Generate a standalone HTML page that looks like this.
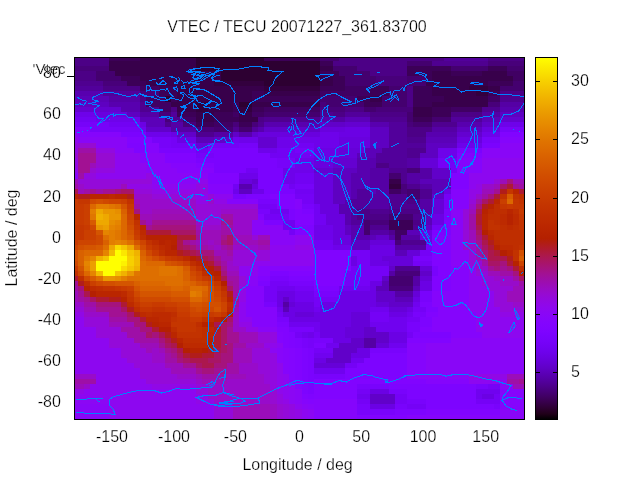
<!DOCTYPE html>
<html><head><meta charset="utf-8"><title>VTEC / TECU</title>
<style>html,body{margin:0;padding:0;background:#fff;width:640px;height:480px;overflow:hidden}
svg{display:block;position:absolute;left:0;top:0}
text{font-family:"Liberation Sans",Arial,sans-serif;font-size:16px;fill:#000;stroke:#fff;stroke-width:.25px}</style></head>
<body><svg width="640" height="480" viewBox="0 0 640 480">
<defs><linearGradient id="cb" x1="0" y1="0" x2="0" y2="1"><stop offset="0.0000" stop-color="#ffff00"/><stop offset="0.0156" stop-color="#fdf300"/><stop offset="0.0312" stop-color="#fbe800"/><stop offset="0.0469" stop-color="#f9dd00"/><stop offset="0.0625" stop-color="#f7d200"/><stop offset="0.0781" stop-color="#f5c800"/><stop offset="0.0938" stop-color="#f3be00"/><stop offset="0.1094" stop-color="#f1b400"/><stop offset="0.1250" stop-color="#efab00"/><stop offset="0.1406" stop-color="#eca200"/><stop offset="0.1562" stop-color="#ea9900"/><stop offset="0.1719" stop-color="#e89100"/><stop offset="0.1875" stop-color="#e68900"/><stop offset="0.2031" stop-color="#e48100"/><stop offset="0.2188" stop-color="#e17a00"/><stop offset="0.2344" stop-color="#df7200"/><stop offset="0.2500" stop-color="#dd6c00"/><stop offset="0.2656" stop-color="#db6500"/><stop offset="0.2812" stop-color="#d85f00"/><stop offset="0.2969" stop-color="#d65900"/><stop offset="0.3125" stop-color="#d35300"/><stop offset="0.3281" stop-color="#d14d00"/><stop offset="0.3438" stop-color="#cf4800"/><stop offset="0.3594" stop-color="#cc4300"/><stop offset="0.3750" stop-color="#ca3e00"/><stop offset="0.3906" stop-color="#c73a00"/><stop offset="0.4062" stop-color="#c43500"/><stop offset="0.4219" stop-color="#c23100"/><stop offset="0.4375" stop-color="#bf2d00"/><stop offset="0.4531" stop-color="#bd2a00"/><stop offset="0.4688" stop-color="#ba2600"/><stop offset="0.4844" stop-color="#b72300"/><stop offset="0.5000" stop-color="#b42000"/><stop offset="0.5156" stop-color="#b11d19"/><stop offset="0.5312" stop-color="#af1a32"/><stop offset="0.5469" stop-color="#ac184a"/><stop offset="0.5625" stop-color="#a91562"/><stop offset="0.5781" stop-color="#a61378"/><stop offset="0.5938" stop-color="#a3118e"/><stop offset="0.6094" stop-color="#9f0fa2"/><stop offset="0.6250" stop-color="#9c0db4"/><stop offset="0.6406" stop-color="#990cc5"/><stop offset="0.6562" stop-color="#960ad4"/><stop offset="0.6719" stop-color="#9209e1"/><stop offset="0.6875" stop-color="#8f08ec"/><stop offset="0.7031" stop-color="#8b07f4"/><stop offset="0.7188" stop-color="#8706fa"/><stop offset="0.7344" stop-color="#8305fe"/><stop offset="0.7500" stop-color="#8004ff"/><stop offset="0.7656" stop-color="#7b03fe"/><stop offset="0.7812" stop-color="#7703fa"/><stop offset="0.7969" stop-color="#7302f4"/><stop offset="0.8125" stop-color="#6e02ec"/><stop offset="0.8281" stop-color="#6a01e1"/><stop offset="0.8438" stop-color="#6501d4"/><stop offset="0.8594" stop-color="#6001c5"/><stop offset="0.8750" stop-color="#5a00b4"/><stop offset="0.8906" stop-color="#5400a2"/><stop offset="0.9062" stop-color="#4e008e"/><stop offset="0.9219" stop-color="#470078"/><stop offset="0.9375" stop-color="#400062"/><stop offset="0.9531" stop-color="#37004a"/><stop offset="0.9688" stop-color="#2d0032"/><stop offset="0.9844" stop-color="#200019"/><stop offset="1.0000" stop-color="#000000"/></linearGradient></defs>
<rect width="640" height="480" fill="#fff"/>
<g shape-rendering="crispEdges"><path fill="#4c0086" d="M75 58h3v3h-3zM78 58h6v3h-6zM84 58h6v3h-6zM90 58h6v3h-6zM96 58h7v3h-7zM103 58h6v3h-6zM339 58h6v3h-6zM345 58h6v3h-6zM351 58h6v3h-6zM357 58h7v3h-7zM364 58h6v3h-6zM370 58h6v3h-6zM376 58h6v3h-6zM382 58h7v3h-7zM389 58h6v3h-6zM395 58h6v3h-6zM401 58h6v3h-6zM407 58h6v3h-6zM413 58h7v3h-7zM420 58h6v3h-6zM426 58h6v3h-6zM432 58h6v3h-6zM438 58h6v3h-6zM488 58h6v3h-6zM494 58h6v3h-6zM500 58h7v3h-7zM507 58h6v3h-6zM513 58h6v3h-6zM519 58h6v3h-6zM75 61h3v5h-3zM78 61h6v5h-6zM84 61h6v5h-6zM90 61h6v5h-6zM96 61h7v5h-7zM103 61h6v5h-6zM333 61h6v5h-6zM339 61h6v5h-6zM345 61h6v5h-6zM351 61h6v5h-6zM357 61h7v5h-7zM364 61h6v5h-6zM370 61h6v5h-6zM376 61h6v5h-6zM382 61h7v5h-7zM389 61h6v5h-6zM395 61h6v5h-6zM401 61h6v5h-6zM357 66h7v5h-7zM364 66h6v5h-6zM370 66h6v5h-6zM376 66h6v5h-6zM382 66h7v5h-7zM389 66h6v5h-6zM395 66h6v5h-6zM401 66h6v5h-6zM75 71h3v5h-3zM78 71h6v5h-6zM84 71h6v5h-6zM90 71h6v5h-6zM370 71h6v5h-6zM376 71h6v5h-6zM382 71h7v5h-7zM389 71h6v5h-6zM395 71h6v5h-6zM401 71h6v5h-6zM75 76h3v5h-3zM78 76h6v5h-6zM84 76h6v5h-6zM90 76h6v5h-6zM103 86h6v5h-6zM109 86h6v5h-6zM115 86h6v5h-6zM121 86h6v5h-6zM127 86h7v5h-7zM134 86h6v5h-6zM407 86h6v5h-6zM407 91h6v5h-6zM500 91h7v5h-7zM507 91h6v5h-6zM513 91h6v5h-6zM519 91h6v5h-6zM140 96h6v6h-6zM407 96h6v6h-6zM407 102h6v5h-6zM171 107h6v5h-6zM320 107h6v5h-6zM345 107h6v5h-6zM351 107h6v5h-6zM357 107h7v5h-7zM333 112h6v5h-6zM339 112h6v5h-6zM370 112h6v5h-6zM376 112h6v5h-6zM382 112h7v5h-7zM389 112h6v5h-6zM395 112h6v5h-6zM401 112h6v5h-6zM451 112h6v5h-6zM457 112h6v5h-6zM463 112h6v5h-6zM469 112h7v5h-7zM476 112h6v5h-6zM258 117h6v5h-6zM407 127h6v5h-6zM413 127h7v5h-7zM420 127h6v5h-6zM426 127h6v5h-6zM407 132h6v5h-6zM413 132h7v5h-7zM420 132h6v5h-6zM376 163h6v5h-6zM382 163h7v5h-7zM407 199h6v5h-6zM413 199h7v5h-7zM357 209h7v5h-7zM364 209h6v5h-6zM389 209h6v5h-6zM395 209h6v5h-6zM401 209h6v5h-6zM407 209h6v5h-6zM413 209h7v5h-7zM357 214h7v6h-7zM364 214h6v6h-6zM370 214h6v6h-6zM376 214h6v6h-6zM382 214h7v6h-7zM413 220h7v5h-7zM420 220h6v5h-6z"/><path fill="#3c0057" d="M109 58h6v3h-6zM115 58h6v3h-6zM121 58h6v3h-6zM127 58h7v3h-7zM134 58h6v3h-6zM264 58h6v3h-6zM270 58h7v3h-7zM277 58h6v3h-6zM283 58h6v3h-6zM289 58h6v3h-6zM295 58h7v3h-7zM302 58h6v3h-6zM308 58h6v3h-6zM314 58h6v3h-6zM320 61h6v5h-6zM326 61h7v5h-7zM407 66h6v5h-6zM413 66h7v5h-7zM420 66h6v5h-6zM426 66h6v5h-6zM432 66h6v5h-6zM438 66h6v5h-6zM444 66h7v5h-7zM488 66h6v5h-6zM494 66h6v5h-6zM500 66h7v5h-7zM320 71h6v5h-6zM326 71h7v5h-7zM333 71h6v5h-6zM407 71h6v5h-6zM413 71h7v5h-7zM420 71h6v5h-6zM426 71h6v5h-6zM451 71h6v5h-6zM457 71h6v5h-6zM463 71h6v5h-6zM469 71h7v5h-7zM476 71h6v5h-6zM121 76h6v5h-6zM127 76h7v5h-7zM134 76h6v5h-6zM333 76h6v5h-6zM339 76h6v5h-6zM426 76h6v5h-6zM127 81h7v5h-7zM134 81h6v5h-6zM140 81h6v5h-6zM333 81h6v5h-6zM339 81h6v5h-6zM488 81h6v5h-6zM494 81h6v5h-6zM500 81h7v5h-7zM507 81h6v5h-6zM159 86h6v5h-6zM165 86h6v5h-6zM171 86h6v5h-6zM320 86h6v5h-6zM326 86h7v5h-7zM333 86h6v5h-6zM339 86h6v5h-6zM370 86h6v5h-6zM376 86h6v5h-6zM382 86h7v5h-7zM413 86h7v5h-7zM420 86h6v5h-6zM426 86h6v5h-6zM159 91h6v5h-6zM165 91h6v5h-6zM171 91h6v5h-6zM252 91h6v5h-6zM258 91h6v5h-6zM370 91h6v5h-6zM376 91h6v5h-6zM382 91h7v5h-7zM413 91h7v5h-7zM420 91h6v5h-6zM426 91h6v5h-6zM488 91h6v5h-6zM494 91h6v5h-6zM171 96h6v6h-6zM252 96h6v6h-6zM258 96h6v6h-6zM264 96h6v6h-6zM270 96h7v6h-7zM277 96h6v6h-6zM283 96h6v6h-6zM289 96h6v6h-6zM295 96h7v6h-7zM302 96h6v6h-6zM308 96h6v6h-6zM314 96h6v6h-6zM357 96h7v6h-7zM364 96h6v6h-6zM413 96h7v6h-7zM420 96h6v6h-6zM426 96h6v6h-6zM432 96h6v6h-6zM438 96h6v6h-6zM233 102h6v5h-6zM364 102h6v5h-6zM370 102h6v5h-6zM376 102h6v5h-6zM413 102h7v5h-7zM420 102h6v5h-6zM426 102h6v5h-6zM233 107h6v5h-6zM252 107h6v5h-6zM258 107h6v5h-6zM432 107h6v5h-6zM438 107h6v5h-6zM444 107h7v5h-7zM177 112h6v5h-6zM183 112h7v5h-7zM190 112h6v5h-6zM214 112h7v5h-7zM221 112h6v5h-6zM227 112h6v5h-6zM432 112h6v5h-6zM438 112h6v5h-6zM444 112h7v5h-7zM214 117h7v5h-7zM221 117h6v5h-6zM227 117h6v5h-6zM233 117h6v5h-6zM413 117h7v5h-7zM420 117h6v5h-6zM426 117h6v5h-6zM196 122h6v5h-6zM202 122h6v5h-6zM208 122h6v5h-6zM239 122h7v5h-7zM246 122h6v5h-6zM389 220h6v5h-6zM395 220h6v5h-6zM401 220h6v5h-6zM407 220h6v5h-6zM389 225h6v5h-6zM395 225h6v5h-6zM401 225h6v5h-6zM407 225h6v5h-6z"/><path fill="#38004b" d="M140 58h6v3h-6zM146 58h6v3h-6zM152 58h7v3h-7zM159 58h6v3h-6zM165 58h6v3h-6zM171 58h6v3h-6zM177 58h6v3h-6zM183 58h7v3h-7zM190 58h6v3h-6zM109 61h6v5h-6zM115 61h6v5h-6zM121 61h6v5h-6zM127 61h7v5h-7zM134 61h6v5h-6zM140 61h6v5h-6zM146 61h6v5h-6zM152 61h7v5h-7zM159 61h6v5h-6zM165 61h6v5h-6zM171 61h6v5h-6zM177 61h6v5h-6zM183 61h7v5h-7zM190 61h6v5h-6zM109 66h6v5h-6zM115 66h6v5h-6zM121 66h6v5h-6zM127 66h7v5h-7zM134 66h6v5h-6zM140 66h6v5h-6zM146 66h6v5h-6zM152 66h7v5h-7zM159 66h6v5h-6zM165 66h6v5h-6zM171 66h6v5h-6zM177 66h6v5h-6zM183 66h7v5h-7zM190 66h6v5h-6zM320 66h6v5h-6zM326 66h7v5h-7zM115 71h6v5h-6zM121 71h6v5h-6zM127 71h7v5h-7zM134 71h6v5h-6zM140 71h6v5h-6zM146 71h6v5h-6zM152 71h7v5h-7zM159 71h6v5h-6zM165 71h6v5h-6zM171 71h6v5h-6zM177 71h6v5h-6zM183 71h7v5h-7zM190 71h6v5h-6zM196 71h6v5h-6zM202 71h6v5h-6zM208 71h6v5h-6zM214 71h7v5h-7zM432 71h6v5h-6zM438 71h6v5h-6zM444 71h7v5h-7zM482 71h6v5h-6zM488 71h6v5h-6zM494 71h6v5h-6zM500 71h7v5h-7zM140 76h6v5h-6zM146 76h6v5h-6zM152 76h7v5h-7zM159 76h6v5h-6zM165 76h6v5h-6zM171 76h6v5h-6zM177 76h6v5h-6zM183 76h7v5h-7zM190 76h6v5h-6zM196 76h6v5h-6zM202 76h6v5h-6zM208 76h6v5h-6zM214 76h7v5h-7zM320 76h6v5h-6zM326 76h7v5h-7zM432 76h6v5h-6zM438 76h6v5h-6zM444 76h7v5h-7zM451 76h6v5h-6zM457 76h6v5h-6zM463 76h6v5h-6zM469 76h7v5h-7zM476 76h6v5h-6zM482 76h6v5h-6zM488 76h6v5h-6zM494 76h6v5h-6zM500 76h7v5h-7zM507 76h6v5h-6zM146 81h6v5h-6zM152 81h7v5h-7zM159 81h6v5h-6zM165 81h6v5h-6zM171 81h6v5h-6zM177 81h6v5h-6zM183 81h7v5h-7zM190 81h6v5h-6zM196 81h6v5h-6zM202 81h6v5h-6zM208 81h6v5h-6zM320 81h6v5h-6zM326 81h7v5h-7zM426 81h6v5h-6zM432 81h6v5h-6zM438 81h6v5h-6zM444 81h7v5h-7zM451 81h6v5h-6zM457 81h6v5h-6zM463 81h6v5h-6zM469 81h7v5h-7zM476 81h6v5h-6zM482 81h6v5h-6zM177 86h6v5h-6zM183 86h7v5h-7zM190 86h6v5h-6zM196 86h6v5h-6zM202 86h6v5h-6zM208 86h6v5h-6zM214 86h7v5h-7zM221 86h6v5h-6zM227 86h6v5h-6zM233 86h6v5h-6zM239 86h7v5h-7zM246 86h6v5h-6zM252 86h6v5h-6zM258 86h6v5h-6zM432 86h6v5h-6zM438 86h6v5h-6zM444 86h7v5h-7zM451 86h6v5h-6zM457 86h6v5h-6zM463 86h6v5h-6zM488 86h6v5h-6zM494 86h6v5h-6zM177 91h6v5h-6zM183 91h7v5h-7zM190 91h6v5h-6zM196 91h6v5h-6zM202 91h6v5h-6zM208 91h6v5h-6zM214 91h7v5h-7zM221 91h6v5h-6zM227 91h6v5h-6zM233 91h6v5h-6zM239 91h7v5h-7zM246 91h6v5h-6zM264 91h6v5h-6zM270 91h7v5h-7zM277 91h6v5h-6zM283 91h6v5h-6zM289 91h6v5h-6zM295 91h7v5h-7zM302 91h6v5h-6zM308 91h6v5h-6zM314 91h6v5h-6zM432 91h6v5h-6zM438 91h6v5h-6zM444 91h7v5h-7zM451 91h6v5h-6zM457 91h6v5h-6zM463 91h6v5h-6zM469 91h7v5h-7zM177 96h6v6h-6zM183 96h7v6h-7zM190 96h6v6h-6zM196 96h6v6h-6zM202 96h6v6h-6zM208 96h6v6h-6zM214 96h7v6h-7zM221 96h6v6h-6zM227 96h6v6h-6zM233 96h6v6h-6zM239 96h7v6h-7zM246 96h6v6h-6zM370 96h6v6h-6zM376 96h6v6h-6zM444 96h7v6h-7zM451 96h6v6h-6zM457 96h6v6h-6zM463 96h6v6h-6zM469 96h7v6h-7zM476 96h6v6h-6zM482 96h6v6h-6zM171 102h6v5h-6zM177 102h6v5h-6zM183 102h7v5h-7zM190 102h6v5h-6zM208 102h6v5h-6zM214 102h7v5h-7zM221 102h6v5h-6zM227 102h6v5h-6zM252 102h6v5h-6zM258 102h6v5h-6zM264 102h6v5h-6zM270 102h7v5h-7zM277 102h6v5h-6zM283 102h6v5h-6zM289 102h6v5h-6zM295 102h7v5h-7zM302 102h6v5h-6zM308 102h6v5h-6zM314 102h6v5h-6zM432 102h6v5h-6zM438 102h6v5h-6zM444 102h7v5h-7zM451 102h6v5h-6zM457 102h6v5h-6zM463 102h6v5h-6zM469 102h7v5h-7zM476 102h6v5h-6zM482 102h6v5h-6zM177 107h6v5h-6zM183 107h7v5h-7zM190 107h6v5h-6zM208 107h6v5h-6zM214 107h7v5h-7zM221 107h6v5h-6zM227 107h6v5h-6zM413 107h7v5h-7zM420 107h6v5h-6zM426 107h6v5h-6zM196 112h6v5h-6zM202 112h6v5h-6zM208 112h6v5h-6zM239 112h7v5h-7zM246 112h6v5h-6zM413 112h7v5h-7zM420 112h6v5h-6zM426 112h6v5h-6zM196 117h6v5h-6zM202 117h6v5h-6zM208 117h6v5h-6zM239 117h7v5h-7zM246 117h6v5h-6zM252 117h6v5h-6zM389 179h6v5h-6zM395 179h6v5h-6z"/><path fill="#2d0032" d="M196 58h6v3h-6zM202 58h6v3h-6zM208 58h6v3h-6zM214 58h7v3h-7zM221 58h6v3h-6zM227 58h6v3h-6zM233 58h6v3h-6zM239 58h7v3h-7zM246 58h6v3h-6zM252 58h6v3h-6zM258 58h6v3h-6zM196 61h6v5h-6zM202 61h6v5h-6zM208 61h6v5h-6zM214 61h7v5h-7zM221 61h6v5h-6zM227 61h6v5h-6zM233 61h6v5h-6zM239 61h7v5h-7zM246 61h6v5h-6zM252 61h6v5h-6zM258 61h6v5h-6zM264 61h6v5h-6zM270 61h7v5h-7zM277 61h6v5h-6zM283 61h6v5h-6zM289 61h6v5h-6zM295 61h7v5h-7zM302 61h6v5h-6zM308 61h6v5h-6zM314 61h6v5h-6zM196 66h6v5h-6zM202 66h6v5h-6zM208 66h6v5h-6zM214 66h7v5h-7zM221 66h6v5h-6zM227 66h6v5h-6zM233 66h6v5h-6zM239 66h7v5h-7zM246 66h6v5h-6zM252 66h6v5h-6zM258 66h6v5h-6zM264 66h6v5h-6zM270 66h7v5h-7zM277 66h6v5h-6zM283 66h6v5h-6zM289 66h6v5h-6zM295 66h7v5h-7zM302 66h6v5h-6zM308 66h6v5h-6zM314 66h6v5h-6zM221 71h6v5h-6zM227 71h6v5h-6zM233 71h6v5h-6zM239 71h7v5h-7zM246 71h6v5h-6zM252 71h6v5h-6zM258 71h6v5h-6zM264 71h6v5h-6zM270 71h7v5h-7zM277 71h6v5h-6zM283 71h6v5h-6zM289 71h6v5h-6zM295 71h7v5h-7zM302 71h6v5h-6zM308 71h6v5h-6zM314 71h6v5h-6zM221 76h6v5h-6zM227 76h6v5h-6zM233 76h6v5h-6zM239 76h7v5h-7zM246 76h6v5h-6zM252 76h6v5h-6zM258 76h6v5h-6zM264 76h6v5h-6zM270 76h7v5h-7zM277 76h6v5h-6zM283 76h6v5h-6zM289 76h6v5h-6zM295 76h7v5h-7zM302 76h6v5h-6zM308 76h6v5h-6zM314 76h6v5h-6zM264 81h6v5h-6zM270 81h7v5h-7zM277 81h6v5h-6zM283 81h6v5h-6zM289 81h6v5h-6zM295 81h7v5h-7zM302 81h6v5h-6zM308 81h6v5h-6zM314 81h6v5h-6zM165 96h6v6h-6zM239 102h7v5h-7zM246 102h6v5h-6z"/><path fill="#44006f" d="M320 58h6v3h-6zM326 58h7v3h-7zM333 58h6v3h-6zM407 61h6v5h-6zM413 61h7v5h-7zM420 61h6v5h-6zM426 61h6v5h-6zM333 66h6v5h-6zM339 66h6v5h-6zM345 66h6v5h-6zM351 66h6v5h-6zM451 66h6v5h-6zM457 66h6v5h-6zM463 66h6v5h-6zM469 66h7v5h-7zM476 66h6v5h-6zM482 66h6v5h-6zM507 66h6v5h-6zM513 66h6v5h-6zM519 66h6v5h-6zM96 71h7v5h-7zM103 71h6v5h-6zM109 71h6v5h-6zM339 71h6v5h-6zM345 71h6v5h-6zM351 71h6v5h-6zM357 71h7v5h-7zM364 71h6v5h-6zM96 76h7v5h-7zM103 76h6v5h-6zM109 76h6v5h-6zM115 76h6v5h-6zM345 76h6v5h-6zM351 76h6v5h-6zM357 76h7v5h-7zM364 76h6v5h-6zM370 76h6v5h-6zM407 76h6v5h-6zM413 76h7v5h-7zM420 76h6v5h-6zM345 81h6v5h-6zM351 81h6v5h-6zM357 81h7v5h-7zM364 81h6v5h-6zM370 81h6v5h-6zM407 81h6v5h-6zM413 81h7v5h-7zM420 81h6v5h-6zM513 81h6v5h-6zM519 81h6v5h-6zM389 86h6v5h-6zM395 86h6v5h-6zM401 86h6v5h-6zM500 86h7v5h-7zM507 86h6v5h-6zM513 86h6v5h-6zM519 86h6v5h-6zM389 91h6v5h-6zM395 91h6v5h-6zM401 91h6v5h-6zM320 96h6v6h-6zM326 96h7v6h-7zM333 96h6v6h-6zM339 96h6v6h-6zM345 96h6v6h-6zM351 96h6v6h-6zM382 96h7v6h-7zM389 96h6v6h-6zM395 96h6v6h-6zM401 96h6v6h-6zM326 102h7v5h-7zM333 102h6v5h-6zM339 102h6v5h-6zM345 102h6v5h-6zM351 102h6v5h-6zM357 102h7v5h-7zM382 102h7v5h-7zM389 102h6v5h-6zM395 102h6v5h-6zM401 102h6v5h-6zM364 107h6v5h-6zM370 107h6v5h-6zM264 112h6v5h-6zM270 112h7v5h-7zM277 112h6v5h-6zM283 112h6v5h-6zM289 112h6v5h-6zM295 112h7v5h-7zM302 112h6v5h-6zM308 112h6v5h-6zM314 112h6v5h-6zM407 112h6v5h-6zM407 117h6v5h-6zM432 117h6v5h-6zM438 117h6v5h-6zM444 117h7v5h-7zM413 122h7v5h-7zM420 122h6v5h-6zM426 122h6v5h-6zM214 127h7v5h-7zM221 127h6v5h-6zM227 127h6v5h-6zM239 127h7v5h-7zM246 127h6v5h-6zM389 173h6v6h-6zM395 173h6v6h-6zM407 189h6v5h-6zM413 189h7v5h-7zM407 194h6v5h-6zM413 194h7v5h-7zM389 214h6v6h-6zM395 214h6v6h-6zM401 214h6v6h-6zM407 214h6v6h-6zM364 220h6v5h-6zM364 225h6v5h-6zM364 230h6v5h-6zM389 276h6v5h-6zM395 276h6v5h-6zM401 276h6v5h-6zM407 276h6v5h-6zM389 281h6v5h-6zM395 281h6v5h-6zM401 281h6v5h-6zM407 281h6v5h-6z"/><path fill="#52009b" d="M444 58h7v3h-7zM451 58h6v3h-6zM457 58h6v3h-6zM463 58h6v3h-6zM469 58h7v3h-7zM476 58h6v3h-6zM482 58h6v3h-6zM75 86h3v5h-3zM78 86h6v5h-6zM84 86h6v5h-6zM90 86h6v5h-6zM96 86h7v5h-7zM103 91h6v5h-6zM109 91h6v5h-6zM115 91h6v5h-6zM121 91h6v5h-6zM127 91h7v5h-7zM134 91h6v5h-6zM171 112h6v5h-6zM345 112h6v5h-6zM351 112h6v5h-6zM357 112h7v5h-7zM364 112h6v5h-6zM451 117h6v5h-6zM457 117h6v5h-6zM463 117h6v5h-6zM469 117h7v5h-7zM476 117h6v5h-6zM389 122h6v5h-6zM395 122h6v5h-6zM401 122h6v5h-6zM252 127h6v5h-6zM389 127h6v5h-6zM395 127h6v5h-6zM401 127h6v5h-6zM389 132h6v5h-6zM395 132h6v5h-6zM401 132h6v5h-6zM389 137h6v6h-6zM395 137h6v6h-6zM401 137h6v6h-6zM389 143h6v5h-6zM395 143h6v5h-6zM401 143h6v5h-6zM407 143h6v5h-6zM413 143h7v5h-7zM420 143h6v5h-6zM382 148h7v5h-7zM389 148h6v5h-6zM395 148h6v5h-6zM401 148h6v5h-6zM376 153h6v5h-6zM382 153h7v5h-7zM389 153h6v5h-6zM395 153h6v5h-6zM401 153h6v5h-6zM376 158h6v5h-6zM382 158h7v5h-7zM389 158h6v5h-6zM395 158h6v5h-6zM401 158h6v5h-6zM389 163h6v5h-6zM395 163h6v5h-6zM401 163h6v5h-6zM357 189h7v5h-7zM364 189h6v5h-6zM357 194h7v5h-7zM364 194h6v5h-6zM351 199h6v5h-6zM357 199h7v5h-7zM364 199h6v5h-6zM351 204h6v5h-6zM357 204h7v5h-7zM364 204h6v5h-6zM351 209h6v5h-6zM351 214h6v6h-6zM351 220h6v5h-6zM357 220h7v5h-7z"/><path fill="#4f0090" d="M432 61h6v5h-6zM438 61h6v5h-6zM444 61h7v5h-7zM451 61h6v5h-6zM457 61h6v5h-6zM463 61h6v5h-6zM469 61h7v5h-7zM476 61h6v5h-6zM482 61h6v5h-6zM75 81h3v5h-3zM78 81h6v5h-6zM84 81h6v5h-6zM90 81h6v5h-6zM96 81h7v5h-7zM500 96h7v6h-7zM507 96h6v6h-6zM513 96h6v6h-6zM519 96h6v6h-6zM140 102h6v5h-6zM140 107h6v5h-6zM146 107h6v5h-6zM152 107h7v5h-7zM482 107h6v5h-6zM488 107h6v5h-6zM494 107h6v5h-6zM320 112h6v5h-6zM326 112h7v5h-7zM171 117h6v5h-6zM177 117h6v5h-6zM264 117h6v5h-6zM270 117h7v5h-7zM277 117h6v5h-6zM283 117h6v5h-6zM289 117h6v5h-6zM295 117h7v5h-7zM302 117h6v5h-6zM308 117h6v5h-6zM314 117h6v5h-6zM370 117h6v5h-6zM376 117h6v5h-6zM382 117h7v5h-7zM389 117h6v5h-6zM395 117h6v5h-6zM401 117h6v5h-6zM165 122h6v5h-6zM258 122h6v5h-6zM432 122h6v5h-6zM438 122h6v5h-6zM444 122h7v5h-7zM451 122h6v5h-6zM233 127h6v5h-6zM196 132h6v5h-6zM202 132h6v5h-6zM208 132h6v5h-6zM407 137h6v6h-6zM413 137h7v6h-7zM420 137h6v6h-6zM407 148h6v5h-6zM413 148h7v5h-7zM420 148h6v5h-6zM407 153h6v5h-6zM413 153h7v5h-7zM389 168h6v5h-6zM395 168h6v5h-6zM401 168h6v5h-6zM401 173h6v6h-6zM401 179h6v5h-6zM407 184h6v5h-6zM413 184h7v5h-7zM420 189h6v5h-6zM426 189h6v5h-6zM389 194h6v5h-6zM395 194h6v5h-6zM401 194h6v5h-6zM420 194h6v5h-6zM426 194h6v5h-6zM389 199h6v5h-6zM395 199h6v5h-6zM401 199h6v5h-6zM389 204h6v5h-6zM395 204h6v5h-6zM401 204h6v5h-6zM407 204h6v5h-6zM413 204h7v5h-7zM370 209h6v5h-6zM376 209h6v5h-6zM382 209h7v5h-7zM413 214h7v6h-7zM420 214h6v6h-6zM370 225h6v5h-6zM376 225h6v5h-6zM382 225h7v5h-7zM413 225h7v5h-7zM420 225h6v5h-6zM389 230h6v5h-6zM401 240h6v5h-6zM407 240h6v5h-6zM413 240h7v5h-7zM420 240h6v5h-6zM395 266h6v5h-6zM401 266h6v5h-6zM407 266h6v5h-6zM413 266h7v5h-7z"/><path fill="#48007a" d="M488 61h6v5h-6zM494 61h6v5h-6zM500 61h7v5h-7zM507 61h6v5h-6zM513 61h6v5h-6zM519 61h6v5h-6zM75 66h3v5h-3zM78 66h6v5h-6zM84 66h6v5h-6zM90 66h6v5h-6zM96 66h7v5h-7zM103 66h6v5h-6zM376 76h6v5h-6zM382 76h7v5h-7zM389 76h6v5h-6zM395 76h6v5h-6zM401 76h6v5h-6zM103 81h6v5h-6zM109 81h6v5h-6zM115 81h6v5h-6zM121 81h6v5h-6zM376 81h6v5h-6zM382 81h7v5h-7zM389 81h6v5h-6zM395 81h6v5h-6zM401 81h6v5h-6zM140 91h6v5h-6zM146 91h6v5h-6zM152 91h7v5h-7zM320 102h6v5h-6zM488 102h6v5h-6zM494 102h6v5h-6zM326 107h7v5h-7zM333 107h6v5h-6zM339 107h6v5h-6zM376 107h6v5h-6zM382 107h7v5h-7zM389 107h6v5h-6zM395 107h6v5h-6zM401 107h6v5h-6zM407 107h6v5h-6zM159 112h6v5h-6zM165 112h6v5h-6zM165 117h6v5h-6zM183 122h7v5h-7zM190 122h6v5h-6zM233 122h6v5h-6zM252 122h6v5h-6zM407 122h6v5h-6zM196 127h6v5h-6zM202 127h6v5h-6zM208 127h6v5h-6zM407 168h6v5h-6zM413 168h7v5h-7zM401 184h6v5h-6zM401 189h6v5h-6zM370 220h6v5h-6zM376 220h6v5h-6zM382 220h7v5h-7zM395 240h6v5h-6zM395 271h6v5h-6zM401 271h6v5h-6zM407 271h6v5h-6zM413 271h7v5h-7zM389 286h6v5h-6zM395 286h6v5h-6zM401 286h6v5h-6zM407 286h6v5h-6z"/><path fill="#400063" d="M507 71h6v5h-6zM513 71h6v5h-6zM519 71h6v5h-6zM513 76h6v5h-6zM519 76h6v5h-6zM140 86h6v5h-6zM146 86h6v5h-6zM152 86h7v5h-7zM345 86h6v5h-6zM351 86h6v5h-6zM357 86h7v5h-7zM364 86h6v5h-6zM320 91h6v5h-6zM326 91h7v5h-7zM333 91h6v5h-6zM339 91h6v5h-6zM345 91h6v5h-6zM351 91h6v5h-6zM357 91h7v5h-7zM364 91h6v5h-6zM146 96h6v6h-6zM152 96h7v6h-7zM159 96h6v6h-6zM488 96h6v6h-6zM494 96h6v6h-6zM146 102h6v5h-6zM152 102h7v5h-7zM159 102h6v5h-6zM165 102h6v5h-6zM159 107h6v5h-6zM165 107h6v5h-6zM264 107h6v5h-6zM270 107h7v5h-7zM277 107h6v5h-6zM283 107h6v5h-6zM289 107h6v5h-6zM295 107h7v5h-7zM302 107h6v5h-6zM308 107h6v5h-6zM314 107h6v5h-6zM451 107h6v5h-6zM457 107h6v5h-6zM463 107h6v5h-6zM469 107h7v5h-7zM476 107h6v5h-6zM233 112h6v5h-6zM252 112h6v5h-6zM258 112h6v5h-6zM183 117h7v5h-7zM190 117h6v5h-6zM214 122h7v5h-7zM221 122h6v5h-6zM227 122h6v5h-6zM389 189h6v5h-6zM395 189h6v5h-6zM395 230h6v5h-6zM401 230h6v5h-6zM395 235h6v5h-6z"/><path fill="#33003e" d="M214 81h7v5h-7zM221 81h6v5h-6zM227 81h6v5h-6zM233 81h6v5h-6zM239 81h7v5h-7zM246 81h6v5h-6zM252 81h6v5h-6zM258 81h6v5h-6zM264 86h6v5h-6zM270 86h7v5h-7zM277 86h6v5h-6zM283 86h6v5h-6zM289 86h6v5h-6zM295 86h7v5h-7zM302 86h6v5h-6zM308 86h6v5h-6zM314 86h6v5h-6zM469 86h7v5h-7zM476 86h6v5h-6zM482 86h6v5h-6zM476 91h6v5h-6zM482 91h6v5h-6zM196 102h6v5h-6zM202 102h6v5h-6zM196 107h6v5h-6zM202 107h6v5h-6zM239 107h7v5h-7zM246 107h6v5h-6zM389 184h6v5h-6zM395 184h6v5h-6z"/><path fill="#5800af" d="M75 91h3v5h-3zM78 91h6v5h-6zM84 91h6v5h-6zM90 91h6v5h-6zM96 91h7v5h-7zM109 102h6v5h-6zM115 102h6v5h-6zM121 102h6v5h-6zM127 102h7v5h-7zM134 102h6v5h-6zM121 107h6v5h-6zM127 107h7v5h-7zM134 107h6v5h-6zM500 107h7v5h-7zM507 107h6v5h-6zM513 107h6v5h-6zM519 107h6v5h-6zM320 117h6v5h-6zM326 117h7v5h-7zM264 122h6v5h-6zM270 122h7v5h-7zM277 122h6v5h-6zM283 122h6v5h-6zM289 122h6v5h-6zM295 122h7v5h-7zM302 122h6v5h-6zM308 122h6v5h-6zM314 122h6v5h-6zM370 122h6v5h-6zM376 122h6v5h-6zM382 122h7v5h-7zM457 122h6v5h-6zM463 122h6v5h-6zM469 122h7v5h-7zM476 122h6v5h-6zM258 127h6v5h-6zM239 132h7v5h-7zM246 132h6v5h-6zM426 132h6v5h-6zM432 132h6v5h-6zM438 132h6v5h-6zM444 132h7v5h-7zM451 132h6v5h-6zM357 158h7v5h-7zM364 158h6v5h-6zM370 158h6v5h-6zM357 163h7v5h-7zM364 163h6v5h-6zM370 163h6v5h-6zM357 168h7v5h-7zM364 168h6v5h-6zM351 173h6v6h-6zM357 173h7v6h-7zM364 173h6v6h-6zM351 179h6v5h-6zM357 179h7v5h-7zM364 179h6v5h-6zM239 184h7v5h-7zM246 184h6v5h-6zM351 184h6v5h-6zM357 184h7v5h-7zM364 184h6v5h-6zM351 189h6v5h-6zM351 194h6v5h-6zM345 199h6v5h-6zM339 204h6v5h-6zM345 204h6v5h-6zM339 209h6v5h-6zM345 209h6v5h-6zM345 214h6v6h-6zM345 220h6v5h-6zM351 225h6v5h-6zM357 225h7v5h-7zM351 230h6v5h-6zM357 230h7v5h-7zM351 235h6v5h-6zM357 235h7v5h-7zM364 235h6v5h-6z"/><path fill="#5b01b8" d="M75 96h3v6h-3zM78 96h6v6h-6zM84 96h6v6h-6zM90 96h6v6h-6zM96 96h7v6h-7zM103 96h6v6h-6zM140 117h6v5h-6zM146 117h6v5h-6zM152 117h7v5h-7zM159 117h6v5h-6zM345 117h6v5h-6zM351 117h6v5h-6zM357 117h7v5h-7zM364 117h6v5h-6zM482 117h6v5h-6zM488 117h6v5h-6zM494 117h6v5h-6zM146 122h6v5h-6zM152 122h7v5h-7zM159 122h6v5h-6zM196 137h6v6h-6zM202 137h6v6h-6zM208 137h6v6h-6zM426 137h6v6h-6zM432 137h6v6h-6zM438 137h6v6h-6zM444 137h7v6h-7zM451 137h6v6h-6zM364 148h6v5h-6zM370 148h6v5h-6zM376 148h6v5h-6zM357 153h7v5h-7zM364 153h6v5h-6zM370 153h6v5h-6zM420 179h6v5h-6zM426 179h6v5h-6zM432 179h6v5h-6zM438 179h6v5h-6zM444 179h7v5h-7zM432 184h6v5h-6zM438 184h6v5h-6zM444 184h7v5h-7zM370 189h6v5h-6zM432 189h6v5h-6zM438 189h6v5h-6zM426 214h6v6h-6zM426 220h6v5h-6zM407 230h6v5h-6zM413 230h7v5h-7zM370 235h6v5h-6zM395 250h6v6h-6zM401 250h6v6h-6zM382 281h7v5h-7zM376 286h6v5h-6zM382 286h7v5h-7zM413 286h7v5h-7zM395 297h6v5h-6zM401 297h6v5h-6zM407 297h6v5h-6zM283 307h6v5h-6z"/><path fill="#5500a5" d="M109 96h6v6h-6zM115 96h6v6h-6zM121 96h6v6h-6zM127 96h7v6h-7zM134 96h6v6h-6zM500 102h7v5h-7zM507 102h6v5h-6zM513 102h6v5h-6zM519 102h6v5h-6zM140 112h6v5h-6zM146 112h6v5h-6zM152 112h7v5h-7zM482 112h6v5h-6zM488 112h6v5h-6zM494 112h6v5h-6zM333 117h6v5h-6zM339 117h6v5h-6zM171 122h6v5h-6zM177 122h6v5h-6zM171 127h6v5h-6zM177 127h6v5h-6zM183 127h7v5h-7zM190 127h6v5h-6zM432 127h6v5h-6zM438 127h6v5h-6zM444 127h7v5h-7zM451 127h6v5h-6zM214 132h7v5h-7zM221 132h6v5h-6zM227 132h6v5h-6zM407 158h6v5h-6zM413 158h7v5h-7zM407 163h6v5h-6zM413 163h7v5h-7zM370 168h6v5h-6zM376 168h6v5h-6zM382 168h7v5h-7zM420 168h6v5h-6zM426 168h6v5h-6zM370 173h6v6h-6zM376 173h6v6h-6zM382 173h7v6h-7zM407 173h6v6h-6zM413 173h7v6h-7zM420 173h6v6h-6zM426 173h6v6h-6zM370 179h6v5h-6zM376 179h6v5h-6zM382 179h7v5h-7zM407 179h6v5h-6zM413 179h7v5h-7zM370 184h6v5h-6zM376 184h6v5h-6zM382 184h7v5h-7zM420 184h6v5h-6zM426 184h6v5h-6zM376 189h6v5h-6zM382 189h7v5h-7zM370 194h6v5h-6zM376 194h6v5h-6zM382 194h7v5h-7zM370 199h6v5h-6zM376 199h6v5h-6zM382 199h7v5h-7zM420 199h6v5h-6zM426 199h6v5h-6zM370 204h6v5h-6zM376 204h6v5h-6zM382 204h7v5h-7zM420 204h6v5h-6zM426 204h6v5h-6zM420 209h6v5h-6zM426 209h6v5h-6zM370 230h6v5h-6zM376 230h6v5h-6zM382 230h7v5h-7zM389 235h6v5h-6zM401 235h6v5h-6zM407 235h6v5h-6zM413 235h7v5h-7zM395 245h6v5h-6zM401 245h6v5h-6zM407 245h6v5h-6zM413 245h7v5h-7zM420 245h6v5h-6zM389 271h6v5h-6zM413 276h7v5h-7zM413 281h7v5h-7zM395 291h6v6h-6zM401 291h6v6h-6zM407 291h6v6h-6zM283 302h6v5h-6zM364 338h6v5h-6zM370 338h6v5h-6zM364 343h6v5h-6zM370 343h6v5h-6z"/><path fill="#5e01c1" d="M75 102h3v5h-3zM78 102h6v5h-6zM84 102h6v5h-6zM90 102h6v5h-6zM96 102h7v5h-7zM103 102h6v5h-6zM127 112h7v5h-7zM134 112h6v5h-6zM500 112h7v5h-7zM507 112h6v5h-6zM513 112h6v5h-6zM519 112h6v5h-6zM370 127h6v5h-6zM376 127h6v5h-6zM382 127h7v5h-7zM457 127h6v5h-6zM463 127h6v5h-6zM469 127h7v5h-7zM476 127h6v5h-6zM370 132h6v5h-6zM376 132h6v5h-6zM382 132h7v5h-7zM370 137h6v6h-6zM376 137h6v6h-6zM382 137h7v6h-7zM370 143h6v5h-6zM376 143h6v5h-6zM382 143h7v5h-7zM426 143h6v5h-6zM432 143h6v5h-6zM438 143h6v5h-6zM444 143h7v5h-7zM451 143h6v5h-6zM426 148h6v5h-6zM432 148h6v5h-6zM420 153h6v5h-6zM426 153h6v5h-6zM432 153h6v5h-6zM333 168h6v5h-6zM339 168h6v5h-6zM345 168h6v5h-6zM351 168h6v5h-6zM333 173h6v6h-6zM339 173h6v6h-6zM345 173h6v6h-6zM333 179h6v5h-6zM339 179h6v5h-6zM345 179h6v5h-6zM333 184h6v5h-6zM339 184h6v5h-6zM345 184h6v5h-6zM239 189h7v5h-7zM246 189h6v5h-6zM333 189h6v5h-6zM339 189h6v5h-6zM345 189h6v5h-6zM333 194h6v5h-6zM339 194h6v5h-6zM345 194h6v5h-6zM333 199h6v5h-6zM339 199h6v5h-6zM345 225h6v5h-6zM345 230h6v5h-6zM351 240h6v5h-6zM357 240h7v5h-7zM364 240h6v5h-6zM351 245h6v5h-6zM357 245h7v5h-7zM364 245h6v5h-6z"/><path fill="#6401d0" d="M75 107h3v5h-3zM78 107h6v5h-6zM84 107h6v5h-6zM90 107h6v5h-6zM96 107h7v5h-7zM103 107h6v5h-6zM109 107h6v5h-6zM115 107h6v5h-6zM500 117h7v5h-7zM507 117h6v5h-6zM513 117h6v5h-6zM519 117h6v5h-6zM345 122h6v5h-6zM351 122h6v5h-6zM357 122h7v5h-7zM364 122h6v5h-6zM252 132h6v5h-6zM457 132h6v5h-6zM463 132h6v5h-6zM469 132h7v5h-7zM476 132h6v5h-6zM258 137h6v6h-6zM264 137h6v6h-6zM270 137h7v6h-7zM258 143h6v5h-6zM264 143h6v5h-6zM270 143h7v5h-7zM333 158h6v5h-6zM339 158h6v5h-6zM345 158h6v5h-6zM351 158h6v5h-6zM333 163h6v5h-6zM339 163h6v5h-6zM345 163h6v5h-6zM351 163h6v5h-6zM314 168h6v5h-6zM320 168h6v5h-6zM326 168h7v5h-7zM252 179h6v5h-6z"/><path fill="#6e02ea" d="M75 112h3v5h-3zM78 112h6v5h-6zM84 112h6v5h-6zM90 112h6v5h-6zM96 117h7v5h-7zM103 117h6v5h-6zM109 117h6v5h-6zM115 117h6v5h-6zM121 117h6v5h-6zM127 117h7v5h-7zM134 117h6v5h-6zM500 122h7v5h-7zM507 122h6v5h-6zM513 122h6v5h-6zM519 122h6v5h-6zM146 132h6v5h-6zM152 132h7v5h-7zM159 132h6v5h-6zM165 132h6v5h-6zM320 132h6v5h-6zM326 132h7v5h-7zM333 132h6v5h-6zM482 132h6v5h-6zM488 132h6v5h-6zM494 132h6v5h-6zM239 137h7v6h-7zM246 137h6v6h-6zM252 137h6v6h-6zM277 137h6v6h-6zM283 137h6v6h-6zM289 137h6v6h-6zM295 137h7v6h-7zM302 137h6v6h-6zM308 137h6v6h-6zM314 137h6v6h-6zM320 137h6v6h-6zM326 137h7v6h-7zM333 137h6v6h-6zM277 143h6v5h-6zM283 143h6v5h-6zM289 143h6v5h-6zM314 143h6v5h-6zM320 143h6v5h-6zM326 143h7v5h-7zM333 143h6v5h-6zM457 143h6v5h-6zM463 143h6v5h-6zM469 143h7v5h-7zM476 143h6v5h-6zM258 148h6v5h-6zM264 148h6v5h-6zM270 148h7v5h-7zM438 148h6v5h-6zM444 148h7v5h-7zM451 148h6v5h-6zM438 153h6v5h-6zM444 153h7v5h-7zM451 153h6v5h-6zM295 158h7v5h-7zM302 158h6v5h-6zM308 158h6v5h-6zM295 163h7v5h-7zM302 163h6v5h-6zM308 163h6v5h-6zM283 168h6v5h-6zM289 168h6v5h-6zM295 168h7v5h-7zM302 168h6v5h-6zM308 168h6v5h-6zM239 173h7v6h-7zM246 173h6v6h-6zM252 173h6v6h-6zM283 173h6v6h-6zM289 173h6v6h-6zM283 179h6v5h-6zM289 179h6v5h-6zM233 189h6v5h-6zM252 189h6v5h-6zM258 189h6v5h-6zM314 225h6v5h-6zM320 225h6v5h-6zM326 225h7v5h-7zM314 230h6v5h-6zM320 230h6v5h-6zM326 230h7v5h-7zM314 235h6v5h-6zM320 235h6v5h-6zM326 235h7v5h-7zM333 245h6v5h-6zM339 245h6v5h-6zM345 245h6v5h-6zM308 332h6v6h-6z"/><path fill="#6901de" d="M96 112h7v5h-7zM103 112h6v5h-6zM109 112h6v5h-6zM115 112h6v5h-6zM121 112h6v5h-6zM320 127h6v5h-6zM326 127h7v5h-7zM333 127h6v5h-6zM339 127h6v5h-6zM482 127h6v5h-6zM488 127h6v5h-6zM494 127h6v5h-6zM258 132h6v5h-6zM264 132h6v5h-6zM270 132h7v5h-7zM277 132h6v5h-6zM283 132h6v5h-6zM289 132h6v5h-6zM295 132h7v5h-7zM302 132h6v5h-6zM308 132h6v5h-6zM314 132h6v5h-6zM339 137h6v6h-6zM345 137h6v6h-6zM351 137h6v6h-6zM357 137h7v6h-7zM364 137h6v6h-6zM457 137h6v6h-6zM463 137h6v6h-6zM469 137h7v6h-7zM476 137h6v6h-6zM339 143h6v5h-6zM345 143h6v5h-6zM351 143h6v5h-6zM357 143h7v5h-7zM364 143h6v5h-6zM314 158h6v5h-6zM320 158h6v5h-6zM326 158h7v5h-7zM314 163h6v5h-6zM320 163h6v5h-6zM326 163h7v5h-7zM314 173h6v6h-6zM320 173h6v6h-6zM326 173h7v6h-7zM239 179h7v5h-7zM246 179h6v5h-6zM314 179h6v5h-6zM320 179h6v5h-6zM326 179h7v5h-7zM252 184h6v5h-6zM314 184h6v5h-6zM320 184h6v5h-6zM326 184h7v5h-7zM314 189h6v5h-6zM320 189h6v5h-6zM326 189h7v5h-7zM314 194h6v5h-6zM320 194h6v5h-6zM326 194h7v5h-7zM314 199h6v5h-6zM320 199h6v5h-6zM326 199h7v5h-7zM320 204h6v5h-6zM326 204h7v5h-7zM333 204h6v5h-6zM320 209h6v5h-6zM326 209h7v5h-7zM333 209h6v5h-6zM326 214h7v6h-7zM333 214h6v6h-6zM339 214h6v6h-6zM326 220h7v5h-7zM333 220h6v5h-6zM339 220h6v5h-6zM333 225h6v5h-6zM339 225h6v5h-6zM333 230h6v5h-6zM339 230h6v5h-6zM333 235h6v5h-6zM339 235h6v5h-6zM345 235h6v5h-6zM333 240h6v5h-6zM339 240h6v5h-6zM345 240h6v5h-6z"/><path fill="#7202f3" d="M75 117h3v5h-3zM78 117h6v5h-6zM84 117h6v5h-6zM90 117h6v5h-6zM109 122h6v5h-6zM115 122h6v5h-6zM121 122h6v5h-6zM127 122h7v5h-7zM134 122h6v5h-6zM295 143h7v5h-7zM302 143h6v5h-6zM308 143h6v5h-6zM196 148h6v5h-6zM202 148h6v5h-6zM277 148h6v5h-6zM283 148h6v5h-6zM289 148h6v5h-6zM270 153h7v5h-7zM277 153h6v5h-6zM283 153h6v5h-6zM289 153h6v5h-6zM295 153h7v5h-7zM302 153h6v5h-6zM308 153h6v5h-6zM246 168h6v5h-6zM252 168h6v5h-6zM295 173h7v6h-7zM302 173h6v6h-6zM308 173h6v6h-6zM295 179h7v5h-7zM302 179h6v5h-6zM308 179h6v5h-6zM233 184h6v5h-6zM289 184h6v5h-6zM295 189h7v5h-7zM302 189h6v5h-6zM308 189h6v5h-6zM314 204h6v5h-6zM314 209h6v5h-6zM314 214h6v6h-6zM320 214h6v6h-6zM314 220h6v5h-6zM320 220h6v5h-6zM314 240h6v5h-6zM320 240h6v5h-6zM326 240h7v5h-7zM314 245h6v5h-6zM320 245h6v5h-6zM326 245h7v5h-7z"/><path fill="#7703f9" d="M75 122h3v5h-3zM78 122h6v5h-6zM84 122h6v5h-6zM90 122h6v5h-6zM96 122h7v5h-7zM103 122h6v5h-6zM90 127h6v5h-6zM96 127h7v5h-7zM103 127h6v5h-6zM109 127h6v5h-6zM115 127h6v5h-6zM121 127h6v5h-6zM127 127h7v5h-7zM134 127h6v5h-6zM500 127h7v5h-7zM507 127h6v5h-6zM513 127h6v5h-6zM519 127h6v5h-6zM152 137h7v6h-7zM159 137h6v6h-6zM165 137h6v6h-6zM482 137h6v6h-6zM488 137h6v6h-6zM494 137h6v6h-6zM159 143h6v5h-6zM165 143h6v5h-6zM239 143h7v5h-7zM246 143h6v5h-6zM252 143h6v5h-6zM295 148h7v5h-7zM302 148h6v5h-6zM308 148h6v5h-6zM196 153h6v5h-6zM202 153h6v5h-6zM208 153h6v5h-6zM277 158h6v5h-6zM283 158h6v5h-6zM289 158h6v5h-6zM277 163h6v5h-6zM283 163h6v5h-6zM289 163h6v5h-6zM295 184h7v5h-7zM302 184h6v5h-6zM308 184h6v5h-6zM308 338h6v5h-6zM308 343h6v5h-6z"/><path fill="#6b01e4" d="M140 122h6v5h-6zM345 127h6v5h-6zM351 127h6v5h-6zM357 127h7v5h-7zM364 127h6v5h-6zM171 132h6v5h-6zM339 132h6v5h-6zM345 132h6v5h-6zM351 132h6v5h-6zM357 132h7v5h-7zM364 132h6v5h-6zM177 137h6v6h-6zM183 137h7v6h-7zM190 137h6v6h-6zM314 148h6v5h-6zM320 148h6v5h-6zM326 148h7v5h-7zM333 148h6v5h-6zM314 153h6v5h-6zM320 153h6v5h-6zM326 153h7v5h-7zM333 153h6v5h-6zM444 189h7v5h-7zM432 214h6v6h-6zM438 214h6v6h-6zM432 220h6v5h-6zM438 220h6v5h-6zM420 230h6v5h-6zM426 230h6v5h-6zM420 235h6v5h-6zM426 235h6v5h-6zM426 240h6v5h-6zM370 245h6v5h-6zM376 245h6v5h-6zM382 245h7v5h-7zM389 245h6v5h-6zM370 250h6v6h-6zM376 250h6v6h-6zM382 250h7v6h-7zM389 250h6v6h-6zM351 256h6v5h-6zM370 256h6v5h-6zM376 256h6v5h-6zM351 261h6v5h-6zM370 261h6v5h-6zM376 261h6v5h-6zM382 261h7v5h-7zM370 281h6v5h-6zM376 281h6v5h-6zM420 281h6v5h-6zM426 281h6v5h-6zM370 286h6v5h-6zM420 286h6v5h-6zM426 286h6v5h-6zM277 291h6v6h-6zM283 291h6v6h-6zM289 291h6v6h-6zM339 291h6v6h-6zM345 291h6v6h-6zM351 291h6v6h-6zM357 291h7v6h-7zM364 291h6v6h-6zM370 291h6v6h-6zM277 297h6v5h-6zM289 297h6v5h-6zM339 297h6v5h-6zM345 297h6v5h-6zM351 297h6v5h-6zM357 297h7v5h-7zM364 297h6v5h-6zM370 297h6v5h-6zM413 297h7v5h-7zM277 302h6v5h-6zM295 302h7v5h-7zM302 302h6v5h-6zM308 302h6v5h-6zM320 302h6v5h-6zM326 302h7v5h-7zM333 302h6v5h-6zM339 302h6v5h-6zM345 302h6v5h-6zM351 302h6v5h-6zM357 302h7v5h-7zM364 302h6v5h-6zM370 302h6v5h-6zM289 307h6v5h-6zM295 307h7v5h-7zM302 307h6v5h-6zM308 307h6v5h-6zM320 307h6v5h-6zM326 307h7v5h-7zM333 307h6v5h-6zM339 307h6v5h-6zM345 307h6v5h-6zM351 307h6v5h-6zM357 307h7v5h-7zM364 307h6v5h-6zM407 307h6v5h-6zM283 312h6v5h-6zM289 312h6v5h-6zM314 312h6v5h-6zM320 312h6v5h-6zM326 312h7v5h-7zM333 312h6v5h-6zM339 312h6v5h-6zM345 312h6v5h-6zM389 312h6v5h-6zM395 312h6v5h-6zM401 312h6v5h-6zM289 317h6v5h-6zM295 317h7v5h-7zM302 317h6v5h-6zM308 317h6v5h-6zM314 317h6v5h-6zM320 317h6v5h-6zM326 317h7v5h-7zM333 317h6v5h-6zM339 317h6v5h-6zM345 317h6v5h-6zM320 322h6v5h-6zM326 322h7v5h-7zM333 322h6v5h-6zM339 322h6v5h-6zM345 322h6v5h-6zM320 327h6v5h-6zM326 327h7v5h-7zM333 327h6v5h-6zM339 327h6v5h-6zM320 332h6v6h-6zM326 332h7v6h-7zM333 332h6v6h-6zM339 332h6v6h-6zM389 332h6v6h-6zM395 332h6v6h-6zM401 332h6v6h-6zM333 338h6v5h-6zM339 338h6v5h-6zM345 338h6v5h-6zM389 338h6v5h-6zM395 338h6v5h-6zM401 338h6v5h-6zM357 348h7v5h-7zM364 348h6v5h-6zM351 353h6v5h-6zM357 353h7v5h-7zM364 353h6v5h-6zM314 358h6v5h-6zM320 358h6v5h-6zM370 389h6v5h-6zM376 389h6v5h-6zM382 389h7v5h-7zM482 394h6v5h-6zM488 394h6v5h-6zM370 404h6v5h-6zM376 404h6v5h-6zM382 404h7v5h-7zM389 404h6v5h-6z"/><path fill="#6101c9" d="M320 122h6v5h-6zM326 122h7v5h-7zM333 122h6v5h-6zM339 122h6v5h-6zM482 122h6v5h-6zM488 122h6v5h-6zM494 122h6v5h-6zM146 127h6v5h-6zM152 127h7v5h-7zM159 127h6v5h-6zM165 127h6v5h-6zM264 127h6v5h-6zM270 127h7v5h-7zM277 127h6v5h-6zM283 127h6v5h-6zM289 127h6v5h-6zM295 127h7v5h-7zM302 127h6v5h-6zM308 127h6v5h-6zM314 127h6v5h-6zM177 132h6v5h-6zM183 132h7v5h-7zM190 132h6v5h-6zM233 132h6v5h-6zM214 137h7v6h-7zM221 137h6v6h-6zM227 137h6v6h-6zM432 168h6v5h-6zM438 168h6v5h-6zM444 168h7v5h-7zM432 173h6v6h-6zM438 173h6v6h-6zM444 173h7v6h-7zM432 194h6v5h-6zM438 194h6v5h-6zM426 225h6v5h-6zM376 235h6v5h-6zM382 235h7v5h-7zM389 266h6v5h-6zM420 271h6v5h-6zM426 271h6v5h-6zM382 276h7v5h-7zM376 291h6v6h-6zM382 291h7v6h-7zM389 291h6v6h-6zM283 297h6v5h-6zM376 297h6v5h-6zM382 297h7v5h-7zM389 297h6v5h-6zM389 302h6v5h-6zM395 302h6v5h-6zM401 302h6v5h-6zM407 302h6v5h-6zM364 327h6v5h-6zM370 327h6v5h-6zM364 332h6v6h-6zM370 332h6v6h-6zM376 332h6v6h-6zM382 332h7v6h-7zM351 338h6v5h-6zM357 338h7v5h-7zM376 338h6v5h-6zM382 338h7v5h-7zM339 343h6v5h-6zM345 343h6v5h-6zM351 343h6v5h-6zM357 343h7v5h-7zM333 348h6v5h-6zM339 348h6v5h-6zM345 348h6v5h-6zM351 348h6v5h-6zM333 353h6v5h-6zM339 353h6v5h-6zM345 353h6v5h-6zM326 358h7v5h-7zM333 358h6v5h-6zM339 358h6v5h-6zM345 358h6v5h-6zM370 394h6v5h-6zM376 394h6v5h-6zM382 394h7v5h-7zM389 394h6v5h-6zM370 399h6v5h-6zM376 399h6v5h-6zM382 399h7v5h-7zM389 399h6v5h-6z"/><path fill="#8104ff" d="M75 127h3v5h-3zM78 127h6v5h-6zM84 127h6v5h-6zM500 132h7v5h-7zM507 132h6v5h-6zM513 132h6v5h-6zM519 132h6v5h-6zM127 137h7v6h-7zM134 137h6v6h-6zM140 137h6v6h-6zM146 137h6v6h-6zM165 153h6v5h-6zM171 153h6v5h-6zM177 153h6v5h-6zM183 153h7v5h-7zM190 153h6v5h-6zM457 153h6v5h-6zM463 153h6v5h-6zM469 153h7v5h-7zM476 153h6v5h-6zM165 158h6v5h-6zM171 158h6v5h-6zM177 158h6v5h-6zM183 158h7v5h-7zM190 158h6v5h-6zM196 163h6v5h-6zM202 163h6v5h-6zM208 163h6v5h-6zM208 173h6v6h-6zM214 173h7v6h-7zM221 173h6v6h-6zM227 173h6v6h-6zM233 173h6v6h-6zM451 173h6v6h-6zM457 173h6v6h-6zM463 173h6v6h-6zM208 179h6v5h-6zM214 179h7v5h-7zM221 179h6v5h-6zM227 179h6v5h-6zM233 179h6v5h-6zM451 179h6v5h-6zM457 179h6v5h-6zM463 179h6v5h-6zM451 184h6v5h-6zM457 184h6v5h-6zM463 184h6v5h-6zM270 194h7v5h-7zM277 194h6v5h-6zM283 194h6v5h-6zM289 194h6v5h-6zM277 199h6v5h-6zM283 199h6v5h-6zM289 199h6v5h-6zM277 204h6v5h-6zM283 204h6v5h-6zM289 204h6v5h-6zM295 209h7v5h-7zM258 214h6v6h-6zM295 214h7v6h-7zM302 214h6v6h-6zM308 214h6v6h-6zM295 220h7v5h-7zM302 220h6v5h-6zM308 220h6v5h-6zM295 230h7v5h-7zM302 230h6v5h-6zM308 230h6v5h-6zM432 235h6v5h-6zM438 235h6v5h-6zM444 235h7v5h-7zM432 240h6v5h-6zM438 240h6v5h-6zM444 240h7v5h-7zM432 245h6v5h-6zM438 245h6v5h-6zM444 245h7v5h-7zM314 250h6v6h-6zM320 250h6v6h-6zM326 250h7v6h-7zM333 250h6v6h-6zM339 250h6v6h-6zM345 250h6v6h-6zM432 250h6v6h-6zM438 250h6v6h-6zM444 250h7v6h-7zM314 256h6v5h-6zM320 256h6v5h-6zM326 256h7v5h-7zM333 256h6v5h-6zM339 256h6v5h-6zM345 256h6v5h-6zM432 256h6v5h-6zM438 256h6v5h-6zM444 256h7v5h-7zM314 261h6v5h-6zM320 261h6v5h-6zM326 261h7v5h-7zM333 261h6v5h-6zM339 261h6v5h-6zM345 261h6v5h-6zM432 261h6v5h-6zM438 261h6v5h-6zM444 261h7v5h-7zM314 266h6v5h-6zM320 266h6v5h-6zM326 266h7v5h-7zM333 266h6v5h-6zM339 266h6v5h-6zM345 266h6v5h-6zM438 266h6v5h-6zM444 266h7v5h-7zM289 271h6v5h-6zM295 271h7v5h-7zM302 271h6v5h-6zM308 271h6v5h-6zM314 271h6v5h-6zM320 271h6v5h-6zM326 271h7v5h-7zM333 271h6v5h-6zM339 271h6v5h-6zM438 271h6v5h-6zM444 271h7v5h-7zM258 276h6v5h-6zM264 276h6v5h-6zM314 276h6v5h-6zM320 276h6v5h-6zM326 276h7v5h-7zM333 276h6v5h-6zM339 276h6v5h-6zM432 276h6v5h-6zM438 276h6v5h-6zM444 276h7v5h-7zM314 281h6v5h-6zM320 281h6v5h-6zM326 281h7v5h-7zM333 281h6v5h-6zM339 281h6v5h-6zM432 281h6v5h-6zM438 281h6v5h-6zM444 281h7v5h-7zM432 286h6v5h-6zM438 286h6v5h-6zM444 286h7v5h-7zM426 312h6v5h-6zM432 312h6v5h-6zM277 327h6v5h-6zM283 327h6v5h-6zM420 327h6v5h-6zM426 327h6v5h-6zM283 332h6v6h-6zM283 338h6v5h-6zM407 338h6v5h-6zM413 338h7v5h-7zM420 338h6v5h-6zM426 338h6v5h-6zM432 338h6v5h-6zM438 338h6v5h-6zM444 338h7v5h-7zM283 343h6v5h-6zM295 348h7v5h-7zM295 353h7v5h-7zM295 358h7v5h-7zM295 363h7v5h-7zM295 368h7v6h-7zM295 374h7v5h-7zM295 379h7v5h-7zM314 379h6v5h-6zM320 379h6v5h-6zM326 379h7v5h-7zM333 379h6v5h-6zM339 379h6v5h-6zM345 379h6v5h-6zM351 379h6v5h-6zM357 379h7v5h-7zM364 379h6v5h-6zM370 379h6v5h-6zM376 379h6v5h-6zM382 379h7v5h-7zM389 379h6v5h-6zM395 379h6v5h-6zM401 379h6v5h-6zM407 379h6v5h-6zM413 379h7v5h-7zM420 379h6v5h-6zM295 384h7v5h-7zM314 384h6v5h-6zM320 384h6v5h-6zM326 384h7v5h-7zM333 384h6v5h-6zM339 384h6v5h-6zM345 384h6v5h-6zM351 384h6v5h-6zM314 389h6v5h-6zM320 389h6v5h-6zM326 389h7v5h-7zM333 389h6v5h-6zM339 389h6v5h-6zM345 389h6v5h-6zM351 389h6v5h-6zM302 394h6v5h-6zM314 394h6v5h-6zM320 394h6v5h-6zM326 394h7v5h-7zM333 394h6v5h-6zM339 394h6v5h-6zM345 394h6v5h-6zM351 394h6v5h-6zM426 409h6v6h-6zM432 409h6v6h-6zM438 409h6v6h-6zM444 409h7v6h-7zM451 409h6v6h-6zM457 409h6v6h-6zM463 409h6v6h-6zM469 409h7v6h-7zM476 409h6v6h-6zM482 409h6v6h-6zM488 409h6v6h-6zM494 409h6v6h-6zM357 415h7v4h-7zM364 415h6v4h-6zM370 415h6v4h-6zM376 415h6v4h-6zM382 415h7v4h-7zM389 415h6v4h-6zM395 415h6v4h-6zM401 415h6v4h-6z"/><path fill="#7002ef" d="M140 127h6v5h-6zM233 137h6v6h-6zM270 209h7v5h-7zM277 209h6v5h-6zM283 209h6v5h-6zM283 220h6v5h-6zM289 220h6v5h-6zM283 225h6v5h-6zM289 225h6v5h-6zM277 286h6v5h-6zM283 286h6v5h-6zM289 286h6v5h-6zM339 286h6v5h-6zM345 286h6v5h-6zM351 286h6v5h-6zM357 286h7v5h-7zM364 286h6v5h-6zM295 291h7v6h-7zM302 291h6v6h-6zM308 291h6v6h-6zM295 297h7v5h-7zM302 297h6v5h-6zM308 297h6v5h-6zM413 302h7v5h-7zM277 307h6v5h-6zM314 307h6v5h-6zM370 307h6v5h-6zM376 307h6v5h-6zM382 307h7v5h-7zM407 312h6v5h-6zM389 317h6v5h-6zM395 317h6v5h-6zM401 317h6v5h-6zM289 322h6v5h-6zM295 322h7v5h-7zM302 322h6v5h-6zM308 322h6v5h-6zM314 322h6v5h-6zM370 322h6v5h-6zM376 322h6v5h-6zM382 322h7v5h-7zM389 322h6v5h-6zM395 322h6v5h-6zM401 322h6v5h-6zM314 327h6v5h-6zM376 327h6v5h-6zM382 327h7v5h-7zM389 327h6v5h-6zM395 327h6v5h-6zM401 327h6v5h-6zM302 332h6v6h-6zM326 343h7v5h-7zM333 343h6v5h-6zM389 343h6v5h-6zM395 343h6v5h-6zM401 343h6v5h-6zM314 353h6v5h-6zM320 353h6v5h-6zM326 353h7v5h-7zM351 358h6v5h-6zM357 358h7v5h-7zM314 368h6v6h-6zM320 368h6v6h-6zM326 368h7v6h-7zM333 368h6v6h-6zM339 368h6v6h-6zM476 389h6v5h-6zM482 389h6v5h-6zM488 389h6v5h-6zM494 389h6v5h-6zM357 394h7v5h-7zM364 394h6v5h-6zM476 394h6v5h-6z"/><path fill="#8906f7" d="M75 132h3v5h-3zM78 137h6v6h-6zM84 137h6v6h-6zM90 137h6v6h-6zM96 137h7v6h-7zM103 137h6v6h-6zM109 137h6v6h-6zM115 137h6v6h-6zM121 137h6v6h-6zM96 143h7v5h-7zM103 143h6v5h-6zM109 143h6v5h-6zM115 143h6v5h-6zM121 143h6v5h-6zM500 143h7v5h-7zM507 143h6v5h-6zM513 143h6v5h-6zM519 143h6v5h-6zM115 148h6v5h-6zM121 148h6v5h-6zM127 148h7v5h-7zM482 148h6v5h-6zM488 148h6v5h-6zM494 148h6v5h-6zM500 148h7v5h-7zM507 148h6v5h-6zM513 148h6v5h-6zM519 148h6v5h-6zM146 153h6v5h-6zM152 153h7v5h-7zM159 153h6v5h-6zM482 153h6v5h-6zM488 153h6v5h-6zM494 153h6v5h-6zM500 153h7v5h-7zM507 153h6v5h-6zM513 153h6v5h-6zM519 153h6v5h-6zM146 158h6v5h-6zM152 158h7v5h-7zM159 158h6v5h-6zM146 163h6v5h-6zM152 163h7v5h-7zM159 163h6v5h-6zM165 163h6v5h-6zM146 168h6v5h-6zM152 168h7v5h-7zM159 168h6v5h-6zM165 168h6v5h-6zM171 168h6v5h-6zM75 173h3v6h-3zM152 173h7v6h-7zM159 173h6v6h-6zM165 173h6v6h-6zM171 173h6v6h-6zM177 173h6v6h-6zM183 173h7v6h-7zM190 173h6v6h-6zM196 173h6v6h-6zM202 173h6v6h-6zM152 179h7v5h-7zM159 179h6v5h-6zM165 179h6v5h-6zM171 179h6v5h-6zM177 179h6v5h-6zM183 179h7v5h-7zM190 179h6v5h-6zM451 209h6v5h-6zM457 209h6v5h-6zM451 214h6v6h-6zM457 214h6v6h-6zM252 220h6v5h-6zM258 220h6v5h-6zM451 220h6v5h-6zM457 220h6v5h-6zM252 225h6v5h-6zM258 225h6v5h-6zM264 225h6v5h-6zM270 225h7v5h-7zM277 225h6v5h-6zM451 225h6v5h-6zM457 225h6v5h-6zM252 230h6v5h-6zM258 230h6v5h-6zM264 230h6v5h-6zM270 230h7v5h-7zM277 230h6v5h-6zM283 230h6v5h-6zM451 230h6v5h-6zM457 230h6v5h-6zM270 235h7v5h-7zM277 235h6v5h-6zM283 235h6v5h-6zM289 235h6v5h-6zM451 235h6v5h-6zM457 235h6v5h-6zM270 240h7v5h-7zM277 240h6v5h-6zM283 240h6v5h-6zM289 240h6v5h-6zM451 240h6v5h-6zM457 240h6v5h-6zM451 245h6v5h-6zM457 245h6v5h-6zM451 250h6v6h-6zM457 250h6v6h-6zM463 250h6v6h-6zM451 256h6v5h-6zM457 256h6v5h-6zM463 256h6v5h-6zM451 261h6v5h-6zM457 261h6v5h-6zM463 261h6v5h-6zM246 276h6v5h-6zM252 276h6v5h-6zM246 281h6v5h-6zM252 281h6v5h-6zM258 327h6v5h-6zM264 327h6v5h-6zM270 327h7v5h-7zM451 338h6v5h-6zM457 338h6v5h-6zM463 338h6v5h-6zM469 338h7v5h-7zM476 338h6v5h-6zM482 338h6v5h-6zM488 338h6v5h-6zM494 338h6v5h-6zM500 338h7v5h-7zM507 338h6v5h-6zM513 338h6v5h-6zM519 338h6v5h-6zM426 343h6v5h-6zM432 343h6v5h-6zM438 343h6v5h-6zM444 343h7v5h-7zM451 343h6v5h-6zM457 343h6v5h-6zM463 343h6v5h-6zM469 343h7v5h-7zM476 343h6v5h-6zM482 343h6v5h-6zM488 343h6v5h-6zM494 343h6v5h-6zM500 343h7v5h-7zM507 343h6v5h-6zM513 343h6v5h-6zM519 343h6v5h-6zM426 348h6v5h-6zM432 348h6v5h-6zM438 348h6v5h-6zM444 348h7v5h-7zM451 348h6v5h-6zM457 348h6v5h-6zM463 348h6v5h-6zM469 348h7v5h-7zM476 348h6v5h-6zM482 348h6v5h-6zM488 348h6v5h-6zM494 348h6v5h-6zM500 348h7v5h-7zM507 348h6v5h-6zM513 348h6v5h-6zM519 348h6v5h-6zM426 353h6v5h-6zM432 353h6v5h-6zM438 353h6v5h-6zM444 353h7v5h-7zM451 353h6v5h-6zM457 353h6v5h-6zM463 353h6v5h-6zM469 353h7v5h-7zM476 353h6v5h-6zM482 353h6v5h-6zM488 353h6v5h-6zM494 353h6v5h-6zM500 353h7v5h-7zM507 353h6v5h-6zM513 353h6v5h-6zM519 353h6v5h-6zM426 358h6v5h-6zM432 358h6v5h-6zM438 358h6v5h-6zM444 358h7v5h-7zM451 358h6v5h-6zM457 358h6v5h-6zM463 358h6v5h-6zM469 358h7v5h-7zM476 358h6v5h-6zM482 358h6v5h-6zM488 358h6v5h-6zM494 358h6v5h-6zM500 358h7v5h-7zM507 358h6v5h-6zM513 358h6v5h-6zM519 358h6v5h-6zM426 363h6v5h-6zM432 363h6v5h-6zM438 363h6v5h-6zM444 363h7v5h-7zM451 363h6v5h-6zM457 363h6v5h-6zM463 363h6v5h-6zM469 363h7v5h-7zM476 363h6v5h-6zM482 363h6v5h-6zM488 363h6v5h-6zM494 363h6v5h-6zM500 363h7v5h-7zM507 363h6v5h-6zM513 363h6v5h-6zM519 363h6v5h-6zM426 368h6v6h-6zM432 368h6v6h-6zM438 368h6v6h-6zM444 368h7v6h-7zM451 368h6v6h-6zM457 368h6v6h-6zM463 368h6v6h-6zM469 368h7v6h-7zM476 368h6v6h-6zM482 368h6v6h-6zM488 368h6v6h-6zM494 368h6v6h-6zM500 368h7v6h-7zM507 368h6v6h-6zM513 368h6v6h-6zM519 368h6v6h-6zM407 374h6v5h-6zM413 374h7v5h-7zM420 374h6v5h-6zM426 374h6v5h-6zM432 374h6v5h-6zM438 374h6v5h-6zM444 374h7v5h-7zM451 374h6v5h-6zM457 374h6v5h-6zM463 374h6v5h-6zM500 384h7v5h-7zM507 384h6v5h-6zM295 389h7v5h-7zM295 394h7v5h-7zM295 399h7v5h-7zM75 404h3v5h-3zM78 404h6v5h-6zM84 404h6v5h-6zM90 404h6v5h-6zM96 404h7v5h-7zM103 404h6v5h-6zM302 404h6v5h-6zM75 409h3v6h-3zM78 409h6v6h-6zM84 409h6v6h-6zM90 409h6v6h-6zM96 409h7v6h-7zM103 409h6v6h-6zM500 409h7v6h-7zM507 409h6v6h-6zM513 409h6v6h-6zM519 409h6v6h-6zM75 415h3v4h-3zM78 415h6v4h-6zM84 415h6v4h-6zM90 415h6v4h-6zM96 415h7v4h-7zM103 415h6v4h-6zM500 415h7v4h-7zM507 415h6v4h-6zM513 415h6v4h-6zM519 415h6v4h-6z"/><path fill="#8505fc" d="M78 132h6v5h-6zM84 132h6v5h-6zM90 132h6v5h-6zM96 132h7v5h-7zM103 132h6v5h-6zM109 132h6v5h-6zM115 132h6v5h-6zM500 137h7v6h-7zM507 137h6v6h-6zM513 137h6v6h-6zM519 137h6v6h-6zM146 143h6v5h-6zM152 143h7v5h-7zM146 148h6v5h-6zM152 148h7v5h-7zM140 153h6v5h-6zM140 158h6v5h-6zM457 158h6v5h-6zM463 158h6v5h-6zM469 158h7v5h-7zM476 158h6v5h-6zM171 163h6v5h-6zM177 163h6v5h-6zM183 163h7v5h-7zM190 163h6v5h-6zM457 163h6v5h-6zM463 163h6v5h-6zM469 163h7v5h-7zM476 163h6v5h-6zM177 168h6v5h-6zM183 168h7v5h-7zM190 168h6v5h-6zM196 168h6v5h-6zM202 168h6v5h-6zM208 168h6v5h-6zM457 168h6v5h-6zM463 168h6v5h-6zM469 168h7v5h-7zM476 168h6v5h-6zM208 184h6v5h-6zM214 184h7v5h-7zM221 184h6v5h-6zM227 184h6v5h-6zM208 189h6v5h-6zM214 189h7v5h-7zM221 189h6v5h-6zM227 189h6v5h-6zM451 189h6v5h-6zM457 189h6v5h-6zM463 189h6v5h-6zM451 194h6v5h-6zM457 194h6v5h-6zM463 194h6v5h-6zM227 199h6v5h-6zM233 199h6v5h-6zM239 199h7v5h-7zM246 199h6v5h-6zM252 199h6v5h-6zM295 199h7v5h-7zM451 199h6v5h-6zM457 199h6v5h-6zM463 199h6v5h-6zM295 204h7v5h-7zM451 204h6v5h-6zM457 204h6v5h-6zM463 204h6v5h-6zM258 266h6v5h-6zM264 266h6v5h-6zM270 266h7v5h-7zM277 266h6v5h-6zM283 266h6v5h-6zM289 266h6v5h-6zM295 266h7v5h-7zM302 266h6v5h-6zM308 266h6v5h-6zM451 266h6v5h-6zM457 266h6v5h-6zM463 266h6v5h-6zM258 271h6v5h-6zM264 271h6v5h-6zM451 271h6v5h-6zM457 271h6v5h-6zM463 271h6v5h-6zM451 276h6v5h-6zM457 276h6v5h-6zM463 276h6v5h-6zM451 281h6v5h-6zM457 281h6v5h-6zM463 281h6v5h-6zM246 286h6v5h-6zM252 286h6v5h-6zM258 286h6v5h-6zM451 286h6v5h-6zM457 286h6v5h-6zM463 286h6v5h-6zM246 291h6v6h-6zM252 291h6v6h-6zM258 291h6v6h-6zM432 291h6v6h-6zM438 291h6v6h-6zM444 291h7v6h-7zM451 291h6v6h-6zM457 291h6v6h-6zM463 291h6v6h-6zM246 297h6v5h-6zM252 297h6v5h-6zM258 297h6v5h-6zM432 297h6v5h-6zM438 297h6v5h-6zM444 297h7v5h-7zM451 297h6v5h-6zM457 297h6v5h-6zM463 297h6v5h-6zM246 302h6v5h-6zM252 302h6v5h-6zM258 302h6v5h-6zM432 302h6v5h-6zM438 302h6v5h-6zM444 302h7v5h-7zM451 302h6v5h-6zM457 302h6v5h-6zM463 302h6v5h-6zM246 307h6v5h-6zM252 307h6v5h-6zM258 307h6v5h-6zM264 307h6v5h-6zM270 307h7v5h-7zM438 307h6v5h-6zM444 307h7v5h-7zM451 307h6v5h-6zM457 307h6v5h-6zM463 307h6v5h-6zM246 312h6v5h-6zM252 312h6v5h-6zM258 312h6v5h-6zM264 312h6v5h-6zM270 312h7v5h-7zM438 312h6v5h-6zM444 312h7v5h-7zM451 312h6v5h-6zM457 312h6v5h-6zM463 312h6v5h-6zM469 312h7v5h-7zM252 317h6v5h-6zM258 317h6v5h-6zM264 317h6v5h-6zM270 317h7v5h-7zM432 317h6v5h-6zM438 317h6v5h-6zM444 317h7v5h-7zM451 317h6v5h-6zM457 317h6v5h-6zM463 317h6v5h-6zM469 317h7v5h-7zM252 322h6v5h-6zM258 322h6v5h-6zM264 322h6v5h-6zM270 322h7v5h-7zM432 322h6v5h-6zM438 322h6v5h-6zM444 322h7v5h-7zM451 322h6v5h-6zM457 322h6v5h-6zM463 322h6v5h-6zM469 322h7v5h-7zM432 327h6v5h-6zM438 327h6v5h-6zM444 327h7v5h-7zM451 327h6v5h-6zM457 327h6v5h-6zM463 327h6v5h-6zM469 327h7v5h-7zM451 332h6v6h-6zM457 332h6v6h-6zM463 332h6v6h-6zM469 332h7v6h-7zM476 332h6v6h-6zM407 343h6v5h-6zM413 343h7v5h-7zM420 343h6v5h-6zM283 348h6v5h-6zM407 348h6v5h-6zM413 348h7v5h-7zM420 348h6v5h-6zM283 353h6v5h-6zM407 353h6v5h-6zM413 353h7v5h-7zM420 353h6v5h-6zM283 358h6v5h-6zM407 358h6v5h-6zM413 358h7v5h-7zM420 358h6v5h-6zM283 363h6v5h-6zM407 363h6v5h-6zM413 363h7v5h-7zM420 363h6v5h-6zM283 368h6v6h-6zM407 368h6v6h-6zM413 368h7v6h-7zM420 368h6v6h-6zM426 379h6v5h-6zM432 379h6v5h-6zM438 379h6v5h-6zM444 379h7v5h-7zM451 379h6v5h-6zM457 379h6v5h-6zM463 379h6v5h-6zM500 389h7v5h-7zM507 389h6v5h-6zM513 389h6v5h-6zM519 389h6v5h-6zM500 394h7v5h-7zM507 394h6v5h-6zM513 394h6v5h-6zM519 394h6v5h-6zM302 399h6v5h-6zM314 399h6v5h-6zM320 399h6v5h-6zM326 399h7v5h-7zM333 399h6v5h-6zM339 399h6v5h-6zM345 399h6v5h-6zM351 399h6v5h-6zM500 399h7v5h-7zM507 399h6v5h-6zM513 399h6v5h-6zM519 399h6v5h-6zM314 404h6v5h-6zM320 404h6v5h-6zM326 404h7v5h-7zM333 404h6v5h-6zM339 404h6v5h-6zM345 404h6v5h-6zM351 404h6v5h-6zM500 404h7v5h-7zM507 404h6v5h-6zM513 404h6v5h-6zM519 404h6v5h-6zM314 409h6v6h-6zM320 409h6v6h-6zM326 409h7v6h-7zM333 409h6v6h-6zM339 409h6v6h-6zM345 409h6v6h-6zM351 409h6v6h-6zM314 415h6v4h-6zM320 415h6v4h-6zM326 415h7v4h-7zM333 415h6v4h-6zM339 415h6v4h-6zM345 415h6v4h-6zM351 415h6v4h-6zM407 415h6v4h-6zM413 415h7v4h-7zM420 415h6v4h-6zM426 415h6v4h-6zM432 415h6v4h-6zM438 415h6v4h-6zM444 415h7v4h-7zM451 415h6v4h-6zM457 415h6v4h-6zM463 415h6v4h-6zM469 415h7v4h-7zM476 415h6v4h-6zM482 415h6v4h-6zM488 415h6v4h-6zM494 415h6v4h-6z"/><path fill="#7b03fe" d="M121 132h6v5h-6zM127 132h7v5h-7zM134 132h6v5h-6zM140 132h6v5h-6zM482 143h6v5h-6zM488 143h6v5h-6zM494 143h6v5h-6zM159 148h6v5h-6zM165 148h6v5h-6zM171 148h6v5h-6zM177 148h6v5h-6zM183 148h7v5h-7zM190 148h6v5h-6zM208 148h6v5h-6zM214 148h7v5h-7zM221 148h6v5h-6zM227 148h6v5h-6zM233 148h6v5h-6zM239 148h7v5h-7zM246 148h6v5h-6zM252 148h6v5h-6zM457 148h6v5h-6zM463 148h6v5h-6zM469 148h7v5h-7zM476 148h6v5h-6zM214 153h7v5h-7zM221 153h6v5h-6zM227 153h6v5h-6zM233 153h6v5h-6zM239 153h7v5h-7zM246 153h6v5h-6zM252 153h6v5h-6zM258 153h6v5h-6zM264 153h6v5h-6zM196 158h6v5h-6zM202 158h6v5h-6zM208 158h6v5h-6zM214 158h7v5h-7zM221 158h6v5h-6zM227 158h6v5h-6zM233 158h6v5h-6zM239 158h7v5h-7zM246 158h6v5h-6zM252 158h6v5h-6zM258 158h6v5h-6zM264 158h6v5h-6zM270 158h7v5h-7zM214 163h7v5h-7zM221 163h6v5h-6zM227 163h6v5h-6zM233 163h6v5h-6zM239 163h7v5h-7zM246 163h6v5h-6zM252 163h6v5h-6zM258 163h6v5h-6zM264 163h6v5h-6zM270 163h7v5h-7zM214 168h7v5h-7zM221 168h6v5h-6zM227 168h6v5h-6zM233 168h6v5h-6zM239 168h7v5h-7zM258 168h6v5h-6zM264 168h6v5h-6zM270 168h7v5h-7zM277 168h6v5h-6zM258 173h6v6h-6zM264 173h6v6h-6zM270 173h7v6h-7zM277 173h6v6h-6zM258 179h6v5h-6zM264 179h6v5h-6zM270 179h7v5h-7zM277 179h6v5h-6zM258 184h6v5h-6zM264 184h6v5h-6zM270 184h7v5h-7zM277 184h6v5h-6zM283 184h6v5h-6zM264 189h6v5h-6zM270 189h7v5h-7zM277 189h6v5h-6zM283 189h6v5h-6zM289 189h6v5h-6zM308 348h6v5h-6zM308 353h6v5h-6zM308 358h6v5h-6zM308 363h6v5h-6zM308 368h6v6h-6zM308 374h6v5h-6zM308 379h6v5h-6zM308 384h6v5h-6zM308 389h6v5h-6z"/><path fill="#8f08eb" d="M75 137h3v6h-3zM75 168h3v5h-3zM196 179h6v5h-6zM202 179h6v5h-6zM270 343h7v5h-7zM277 363h6v5h-6zM277 368h6v6h-6zM277 374h6v5h-6zM277 379h6v5h-6zM277 384h6v5h-6zM277 389h6v5h-6z"/><path fill="#7502f6" d="M171 137h6v6h-6zM171 143h6v5h-6zM177 143h6v5h-6zM183 143h7v5h-7zM190 143h6v5h-6zM208 143h6v5h-6zM214 143h7v5h-7zM221 143h6v5h-6zM227 143h6v5h-6zM233 143h6v5h-6zM438 158h6v5h-6zM444 158h7v5h-7zM451 158h6v5h-6zM438 163h6v5h-6zM444 163h7v5h-7zM451 163h6v5h-6zM451 168h6v5h-6zM295 194h7v5h-7zM302 194h6v5h-6zM308 194h6v5h-6zM444 194h7v5h-7zM302 199h6v5h-6zM308 199h6v5h-6zM444 199h7v5h-7zM258 204h6v5h-6zM264 204h6v5h-6zM270 204h7v5h-7zM444 204h7v5h-7zM264 214h6v6h-6zM270 214h7v6h-7zM277 214h6v6h-6zM283 214h6v6h-6zM432 225h6v5h-6zM438 225h6v5h-6zM289 230h6v5h-6zM426 245h6v5h-6zM351 250h6v6h-6zM357 250h7v6h-7zM364 250h6v6h-6zM420 250h6v6h-6zM426 250h6v6h-6zM357 256h7v5h-7zM364 256h6v5h-6zM357 261h7v5h-7zM364 261h6v5h-6zM413 261h7v5h-7zM420 261h6v5h-6zM426 261h6v5h-6zM351 266h6v5h-6zM357 266h7v5h-7zM364 266h6v5h-6zM370 266h6v5h-6zM376 266h6v5h-6zM382 266h7v5h-7zM345 271h6v5h-6zM351 271h6v5h-6zM357 271h7v5h-7zM364 271h6v5h-6zM370 271h6v5h-6zM376 271h6v5h-6zM382 271h7v5h-7zM345 276h6v5h-6zM351 276h6v5h-6zM357 276h7v5h-7zM364 276h6v5h-6zM370 276h6v5h-6zM376 276h6v5h-6zM270 281h7v5h-7zM277 281h6v5h-6zM283 281h6v5h-6zM345 281h6v5h-6zM351 281h6v5h-6zM357 281h7v5h-7zM364 281h6v5h-6zM264 286h6v5h-6zM270 286h7v5h-7zM295 286h7v5h-7zM302 286h6v5h-6zM308 286h6v5h-6zM264 291h6v6h-6zM270 291h7v6h-7zM264 297h6v5h-6zM270 297h7v5h-7zM314 297h6v5h-6zM320 297h6v5h-6zM326 297h7v5h-7zM333 297h6v5h-6zM314 302h6v5h-6zM413 307h7v5h-7zM420 307h6v5h-6zM277 312h6v5h-6zM370 312h6v5h-6zM376 312h6v5h-6zM382 312h7v5h-7zM370 317h6v5h-6zM376 317h6v5h-6zM382 317h7v5h-7zM407 317h6v5h-6zM413 317h7v5h-7zM295 332h7v6h-7zM314 332h6v6h-6zM407 332h6v6h-6zM314 348h6v5h-6zM320 348h6v5h-6zM326 348h7v5h-7zM345 363h6v5h-6zM351 363h6v5h-6zM488 384h6v5h-6zM494 384h6v5h-6zM357 389h7v5h-7zM364 389h6v5h-6zM395 394h6v5h-6zM401 394h6v5h-6zM494 394h6v5h-6zM357 399h7v5h-7zM364 399h6v5h-6zM395 399h6v5h-6zM401 399h6v5h-6zM476 399h6v5h-6zM482 399h6v5h-6zM488 399h6v5h-6zM494 399h6v5h-6zM407 404h6v5h-6zM413 404h7v5h-7zM420 404h6v5h-6z"/><path fill="#9209e0" d="M75 143h3v5h-3zM75 148h3v5h-3zM96 148h7v5h-7zM103 148h6v5h-6zM109 148h6v5h-6zM75 158h3v5h-3zM75 163h3v5h-3zM96 168h7v5h-7zM103 168h6v5h-6zM109 168h6v5h-6zM84 173h6v6h-6zM90 173h6v6h-6zM146 173h6v6h-6zM196 184h6v5h-6zM202 184h6v5h-6zM196 189h6v5h-6zM202 189h6v5h-6zM270 332h7v6h-7zM270 338h7v5h-7zM270 353h7v5h-7zM270 358h7v5h-7zM270 363h7v5h-7zM270 368h7v6h-7zM270 374h7v5h-7zM270 379h7v5h-7zM270 384h7v5h-7zM277 394h6v5h-6zM277 399h6v5h-6zM289 404h6v5h-6zM289 409h6v6h-6zM289 415h6v4h-6z"/><path fill="#960bd2" d="M78 143h6v5h-6zM84 143h6v5h-6zM90 143h6v5h-6zM75 153h3v5h-3zM96 153h7v5h-7zM103 153h6v5h-6zM109 153h6v5h-6zM96 158h7v5h-7zM103 158h6v5h-6zM109 158h6v5h-6zM96 163h7v5h-7zM103 163h6v5h-6zM109 163h6v5h-6zM90 168h6v5h-6zM270 389h7v5h-7zM270 394h7v5h-7zM270 399h7v5h-7zM277 404h6v5h-6zM277 409h6v6h-6zM277 415h6v4h-6z"/><path fill="#7f04ff" d="M127 143h7v5h-7zM134 143h6v5h-6zM140 143h6v5h-6zM134 148h6v5h-6zM140 148h6v5h-6zM289 332h6v6h-6zM289 338h6v5h-6zM289 343h6v5h-6zM308 394h6v5h-6z"/><path fill="#6601d8" d="M196 143h6v5h-6zM202 143h6v5h-6zM339 148h6v5h-6zM345 148h6v5h-6zM351 148h6v5h-6zM357 148h7v5h-7zM339 153h6v5h-6zM345 153h6v5h-6zM351 153h6v5h-6zM420 158h6v5h-6zM426 158h6v5h-6zM432 158h6v5h-6zM420 163h6v5h-6zM426 163h6v5h-6zM432 163h6v5h-6zM432 199h6v5h-6zM438 199h6v5h-6zM432 204h6v5h-6zM438 204h6v5h-6zM432 209h6v5h-6zM438 209h6v5h-6zM370 240h6v5h-6zM376 240h6v5h-6zM382 240h7v5h-7zM389 240h6v5h-6zM407 250h6v6h-6zM413 250h7v6h-7zM382 256h7v5h-7zM389 256h6v5h-6zM395 256h6v5h-6zM401 256h6v5h-6zM407 256h6v5h-6zM389 261h6v5h-6zM395 261h6v5h-6zM401 261h6v5h-6zM407 261h6v5h-6zM420 266h6v5h-6zM426 266h6v5h-6zM420 276h6v5h-6zM426 276h6v5h-6zM413 291h7v6h-7zM289 302h6v5h-6zM376 302h6v5h-6zM382 302h7v5h-7zM389 307h6v5h-6zM395 307h6v5h-6zM401 307h6v5h-6zM295 312h7v5h-7zM302 312h6v5h-6zM308 312h6v5h-6zM351 312h6v5h-6zM357 312h7v5h-7zM364 312h6v5h-6zM351 317h6v5h-6zM357 317h7v5h-7zM364 317h6v5h-6zM351 322h6v5h-6zM357 322h7v5h-7zM364 322h6v5h-6zM345 327h6v5h-6zM351 327h6v5h-6zM357 327h7v5h-7zM345 332h6v6h-6zM351 332h6v6h-6zM357 332h7v6h-7zM376 343h6v5h-6zM382 343h7v5h-7zM314 363h6v5h-6zM320 363h6v5h-6zM326 363h7v5h-7zM333 363h6v5h-6zM339 363h6v5h-6z"/><path fill="#9e0fa7" d="M78 148h6v5h-6zM84 148h6v5h-6zM90 148h6v5h-6zM78 173h6v6h-6zM75 184h3v5h-3zM519 184h6v5h-6zM84 189h6v5h-6zM96 189h7v5h-7zM482 194h6v5h-6zM476 199h6v5h-6zM134 204h6v5h-6zM221 214h6v6h-6zM227 214h6v6h-6zM469 214h7v6h-7zM469 220h7v5h-7zM221 225h6v5h-6zM227 225h6v5h-6zM469 225h7v5h-7zM196 230h6v5h-6zM221 230h6v5h-6zM227 230h6v5h-6zM190 240h6v5h-6zM258 240h6v5h-6zM264 240h6v5h-6zM196 245h6v5h-6zM202 245h6v5h-6zM221 245h6v5h-6zM476 245h6v5h-6zM227 250h6v6h-6zM476 250h6v6h-6zM221 261h6v5h-6zM482 261h6v5h-6zM500 271h7v5h-7zM507 271h6v5h-6zM227 276h6v5h-6zM233 276h6v5h-6zM513 276h6v5h-6zM233 281h6v5h-6zM519 281h6v5h-6zM75 286h3v5h-3zM233 286h6v5h-6zM233 291h6v6h-6zM78 297h6v5h-6zM84 302h6v5h-6zM90 302h6v5h-6zM233 302h6v5h-6zM109 317h6v5h-6zM115 317h6v5h-6zM121 317h6v5h-6zM121 327h6v5h-6zM127 327h7v5h-7zM134 327h6v5h-6zM127 332h7v6h-7zM134 332h6v6h-6zM140 332h6v6h-6zM134 338h6v5h-6zM140 338h6v5h-6zM146 338h6v5h-6zM152 338h7v5h-7zM233 343h6v5h-6zM239 343h7v5h-7zM165 353h6v5h-6zM165 358h6v5h-6zM171 358h6v5h-6zM227 363h6v5h-6zM233 363h6v5h-6zM227 368h6v6h-6zM233 368h6v6h-6zM202 374h6v5h-6zM208 374h6v5h-6zM214 374h7v5h-7zM221 374h6v5h-6zM75 379h3v5h-3zM78 379h6v5h-6zM84 379h6v5h-6zM90 379h6v5h-6zM507 379h6v5h-6zM513 379h6v5h-6z"/><path fill="#a21193" d="M78 153h6v5h-6zM84 153h6v5h-6zM90 153h6v5h-6zM78 158h6v5h-6zM84 158h6v5h-6zM90 158h6v5h-6zM78 163h6v5h-6zM84 163h6v5h-6zM78 168h6v5h-6zM84 168h6v5h-6zM513 184h6v5h-6zM90 189h6v5h-6zM103 189h6v5h-6zM109 189h6v5h-6zM494 189h6v5h-6zM140 220h6v5h-6zM152 220h7v5h-7zM159 220h6v5h-6zM165 220h6v5h-6zM171 220h6v5h-6zM177 220h6v5h-6zM183 220h7v5h-7zM190 220h6v5h-6zM221 220h6v5h-6zM227 220h6v5h-6zM146 225h6v5h-6zM196 235h6v5h-6zM221 235h6v5h-6zM183 240h7v5h-7zM476 240h6v5h-6zM227 245h6v5h-6zM214 256h7v5h-7zM482 256h6v5h-6zM221 266h6v5h-6zM488 266h6v5h-6zM500 266h7v5h-7zM75 281h3v5h-3zM227 281h6v5h-6zM78 291h6v6h-6zM84 297h6v5h-6zM233 297h6v5h-6zM96 307h7v5h-7zM103 307h6v5h-6zM109 307h6v5h-6zM115 307h6v5h-6zM109 312h6v5h-6zM115 312h6v5h-6zM121 312h6v5h-6zM227 327h6v5h-6zM227 332h6v6h-6zM233 332h6v6h-6zM227 338h6v5h-6zM233 338h6v5h-6zM159 343h6v5h-6zM165 348h6v5h-6zM171 353h6v5h-6zM183 363h7v5h-7zM190 363h6v5h-6zM196 368h6v6h-6zM214 368h7v6h-7zM221 368h6v6h-6zM519 379h6v5h-6z"/><path fill="#8d07f0" d="M115 153h6v5h-6zM121 153h6v5h-6zM127 153h7v5h-7zM134 153h6v5h-6zM115 158h6v5h-6zM121 158h6v5h-6zM127 158h7v5h-7zM134 158h6v5h-6zM482 158h6v5h-6zM488 158h6v5h-6zM494 158h6v5h-6zM500 158h7v5h-7zM507 158h6v5h-6zM513 158h6v5h-6zM519 158h6v5h-6zM115 163h6v5h-6zM121 163h6v5h-6zM127 163h7v5h-7zM134 163h6v5h-6zM140 163h6v5h-6zM482 163h6v5h-6zM488 163h6v5h-6zM494 163h6v5h-6zM500 163h7v5h-7zM507 163h6v5h-6zM513 163h6v5h-6zM519 163h6v5h-6zM115 168h6v5h-6zM121 168h6v5h-6zM127 168h7v5h-7zM134 168h6v5h-6zM140 168h6v5h-6zM482 168h6v5h-6zM488 168h6v5h-6zM494 168h6v5h-6zM500 168h7v5h-7zM507 168h6v5h-6zM513 168h6v5h-6zM519 168h6v5h-6zM96 173h7v6h-7zM103 173h6v6h-6zM109 173h6v6h-6zM115 173h6v6h-6zM121 173h6v6h-6zM127 173h7v6h-7zM134 173h6v6h-6zM140 173h6v6h-6zM469 173h7v6h-7zM476 173h6v6h-6zM482 173h6v6h-6zM488 173h6v6h-6zM494 173h6v6h-6zM500 173h7v6h-7zM507 173h6v6h-6zM513 173h6v6h-6zM519 173h6v6h-6zM469 179h7v5h-7zM476 179h6v5h-6zM482 179h6v5h-6zM488 179h6v5h-6zM152 184h7v5h-7zM159 184h6v5h-6zM165 184h6v5h-6zM171 184h6v5h-6zM177 184h6v5h-6zM183 184h7v5h-7zM190 184h6v5h-6zM469 184h7v5h-7zM196 194h6v5h-6zM202 194h6v5h-6zM214 194h7v5h-7zM221 194h6v5h-6zM227 194h6v5h-6zM295 235h7v5h-7zM302 235h6v5h-6zM308 235h6v5h-6zM295 240h7v5h-7zM302 240h6v5h-6zM308 240h6v5h-6zM270 245h7v5h-7zM277 245h6v5h-6zM283 245h6v5h-6zM289 245h6v5h-6zM270 250h7v6h-7zM277 250h6v6h-6zM283 250h6v6h-6zM289 250h6v6h-6zM295 250h7v6h-7zM302 250h6v6h-6zM308 250h6v6h-6zM270 256h7v5h-7zM277 256h6v5h-6zM283 256h6v5h-6zM289 256h6v5h-6zM295 256h7v5h-7zM302 256h6v5h-6zM308 256h6v5h-6zM252 261h6v5h-6zM258 261h6v5h-6zM264 261h6v5h-6zM270 261h7v5h-7zM277 261h6v5h-6zM283 261h6v5h-6zM289 261h6v5h-6zM295 261h7v5h-7zM302 261h6v5h-6zM308 261h6v5h-6zM239 266h7v5h-7zM246 266h6v5h-6zM252 266h6v5h-6zM469 266h7v5h-7zM239 271h7v5h-7zM246 271h6v5h-6zM252 271h6v5h-6zM469 271h7v5h-7zM469 276h7v5h-7zM476 276h6v5h-6zM469 281h7v5h-7zM476 281h6v5h-6zM469 286h7v5h-7zM476 286h6v5h-6zM482 286h6v5h-6zM469 291h7v6h-7zM476 291h6v6h-6zM482 291h6v6h-6zM488 291h6v6h-6zM469 297h7v5h-7zM476 297h6v5h-6zM482 297h6v5h-6zM488 297h6v5h-6zM239 302h7v5h-7zM469 302h7v5h-7zM476 302h6v5h-6zM482 302h6v5h-6zM488 302h6v5h-6zM239 307h7v5h-7zM469 307h7v5h-7zM476 307h6v5h-6zM482 307h6v5h-6zM488 307h6v5h-6zM494 307h6v5h-6zM239 312h7v5h-7zM476 312h6v5h-6zM482 312h6v5h-6zM488 312h6v5h-6zM494 312h6v5h-6zM75 317h3v5h-3zM78 317h6v5h-6zM239 317h7v5h-7zM246 317h6v5h-6zM476 317h6v5h-6zM482 317h6v5h-6zM488 317h6v5h-6zM494 317h6v5h-6zM500 317h7v5h-7zM507 317h6v5h-6zM513 317h6v5h-6zM519 317h6v5h-6zM75 322h3v5h-3zM78 322h6v5h-6zM476 322h6v5h-6zM482 322h6v5h-6zM488 322h6v5h-6zM494 322h6v5h-6zM500 322h7v5h-7zM507 322h6v5h-6zM513 322h6v5h-6zM519 322h6v5h-6zM75 327h3v5h-3zM78 327h6v5h-6zM84 327h6v5h-6zM90 327h6v5h-6zM476 327h6v5h-6zM482 327h6v5h-6zM488 327h6v5h-6zM494 327h6v5h-6zM500 327h7v5h-7zM507 327h6v5h-6zM513 327h6v5h-6zM519 327h6v5h-6zM75 332h3v6h-3zM78 332h6v6h-6zM84 332h6v6h-6zM90 332h6v6h-6zM482 332h6v6h-6zM488 332h6v6h-6zM494 332h6v6h-6zM500 332h7v6h-7zM507 332h6v6h-6zM513 332h6v6h-6zM519 332h6v6h-6zM75 338h3v5h-3zM78 338h6v5h-6zM84 338h6v5h-6zM90 338h6v5h-6zM96 338h7v5h-7zM103 338h6v5h-6zM75 343h3v5h-3zM78 343h6v5h-6zM84 343h6v5h-6zM90 343h6v5h-6zM96 343h7v5h-7zM103 343h6v5h-6zM75 348h3v5h-3zM78 348h6v5h-6zM84 348h6v5h-6zM90 348h6v5h-6zM96 348h7v5h-7zM103 348h6v5h-6zM109 348h6v5h-6zM115 348h6v5h-6zM75 353h3v5h-3zM78 353h6v5h-6zM84 353h6v5h-6zM90 353h6v5h-6zM96 353h7v5h-7zM103 353h6v5h-6zM109 353h6v5h-6zM115 353h6v5h-6zM75 358h3v5h-3zM78 358h6v5h-6zM84 358h6v5h-6zM90 358h6v5h-6zM96 358h7v5h-7zM103 358h6v5h-6zM109 358h6v5h-6zM115 358h6v5h-6zM121 358h6v5h-6zM75 363h3v5h-3zM78 363h6v5h-6zM84 363h6v5h-6zM90 363h6v5h-6zM96 363h7v5h-7zM103 363h6v5h-6zM109 363h6v5h-6zM115 363h6v5h-6zM121 363h6v5h-6zM127 363h7v5h-7zM75 368h3v6h-3zM78 368h6v6h-6zM84 368h6v6h-6zM90 368h6v6h-6zM96 368h7v6h-7zM103 368h6v6h-6zM109 368h6v6h-6zM115 368h6v6h-6zM121 368h6v6h-6zM127 368h7v6h-7zM134 368h6v6h-6zM96 374h7v5h-7zM103 374h6v5h-6zM109 374h6v5h-6zM115 374h6v5h-6zM121 374h6v5h-6zM127 374h7v5h-7zM134 374h6v5h-6zM283 374h6v5h-6zM96 379h7v5h-7zM103 379h6v5h-6zM109 379h6v5h-6zM115 379h6v5h-6zM121 379h6v5h-6zM127 379h7v5h-7zM134 379h6v5h-6zM140 379h6v5h-6zM283 379h6v5h-6zM469 379h7v5h-7zM476 379h6v5h-6zM482 379h6v5h-6zM488 379h6v5h-6zM494 379h6v5h-6zM500 379h7v5h-7zM90 384h6v5h-6zM96 384h7v5h-7zM103 384h6v5h-6zM109 384h6v5h-6zM115 384h6v5h-6zM121 384h6v5h-6zM127 384h7v5h-7zM134 384h6v5h-6zM140 384h6v5h-6zM146 384h6v5h-6zM283 384h6v5h-6zM84 389h6v5h-6zM90 389h6v5h-6zM96 389h7v5h-7zM103 389h6v5h-6zM109 389h6v5h-6zM115 389h6v5h-6zM121 389h6v5h-6zM127 389h7v5h-7zM134 389h6v5h-6zM140 389h6v5h-6zM146 389h6v5h-6zM152 389h7v5h-7zM159 389h6v5h-6zM165 389h6v5h-6zM171 389h6v5h-6zM177 389h6v5h-6zM183 389h7v5h-7zM190 389h6v5h-6zM283 389h6v5h-6zM75 394h3v5h-3zM78 394h6v5h-6zM84 394h6v5h-6zM90 394h6v5h-6zM96 394h7v5h-7zM103 394h6v5h-6zM109 394h6v5h-6zM115 394h6v5h-6zM121 394h6v5h-6zM127 394h7v5h-7zM134 394h6v5h-6zM140 394h6v5h-6zM146 394h6v5h-6zM152 394h7v5h-7zM159 394h6v5h-6zM165 394h6v5h-6zM171 394h6v5h-6zM177 394h6v5h-6zM183 394h7v5h-7zM190 394h6v5h-6zM283 394h6v5h-6zM109 399h6v5h-6zM115 399h6v5h-6zM121 399h6v5h-6zM127 399h7v5h-7zM134 399h6v5h-6zM140 399h6v5h-6zM146 399h6v5h-6zM152 399h7v5h-7zM159 399h6v5h-6zM165 399h6v5h-6zM171 399h6v5h-6zM177 399h6v5h-6zM183 399h7v5h-7zM190 399h6v5h-6zM109 404h6v5h-6zM115 404h6v5h-6zM121 404h6v5h-6zM127 404h7v5h-7zM134 404h6v5h-6zM140 404h6v5h-6zM146 404h6v5h-6zM152 404h7v5h-7zM159 404h6v5h-6zM165 404h6v5h-6zM171 404h6v5h-6zM177 404h6v5h-6zM183 404h7v5h-7zM190 404h6v5h-6zM196 404h6v5h-6zM202 404h6v5h-6zM208 404h6v5h-6zM295 404h7v5h-7zM109 409h6v6h-6zM115 409h6v6h-6zM121 409h6v6h-6zM127 409h7v6h-7zM134 409h6v6h-6zM140 409h6v6h-6zM146 409h6v6h-6zM152 409h7v6h-7zM159 409h6v6h-6zM165 409h6v6h-6zM171 409h6v6h-6zM177 409h6v6h-6zM183 409h7v6h-7zM190 409h6v6h-6zM196 409h6v6h-6zM202 409h6v6h-6zM208 409h6v6h-6zM302 409h6v6h-6zM109 415h6v4h-6zM115 415h6v4h-6zM121 415h6v4h-6zM127 415h7v4h-7zM134 415h6v4h-6zM140 415h6v4h-6zM146 415h6v4h-6zM152 415h7v4h-7zM159 415h6v4h-6zM165 415h6v4h-6zM171 415h6v4h-6zM177 415h6v4h-6zM183 415h7v4h-7zM190 415h6v4h-6zM196 415h6v4h-6zM202 415h6v4h-6zM208 415h6v4h-6zM302 415h6v4h-6z"/><path fill="#9b0dba" d="M90 163h6v5h-6zM75 179h3v5h-3zM500 179h7v5h-7zM513 179h6v5h-6zM519 179h6v5h-6zM121 184h6v5h-6zM494 184h6v5h-6zM78 189h6v5h-6zM482 189h6v5h-6zM488 189h6v5h-6zM134 199h6v5h-6zM152 209h7v5h-7zM159 209h6v5h-6zM165 209h6v5h-6zM171 209h6v5h-6zM177 209h6v5h-6zM183 209h7v5h-7zM190 209h6v5h-6zM469 209h7v5h-7zM140 214h6v6h-6zM146 214h6v6h-6zM146 220h6v5h-6zM196 225h6v5h-6zM202 230h6v5h-6zM208 230h6v5h-6zM214 230h7v5h-7zM469 230h7v5h-7zM202 235h6v5h-6zM208 235h6v5h-6zM214 235h7v5h-7zM233 235h6v5h-6zM239 235h7v5h-7zM246 235h6v5h-6zM258 235h6v5h-6zM264 235h6v5h-6zM469 235h7v5h-7zM196 240h6v5h-6zM202 240h6v5h-6zM214 240h7v5h-7zM233 240h6v5h-6zM239 240h7v5h-7zM246 240h6v5h-6zM252 240h6v5h-6zM208 245h6v5h-6zM258 245h6v5h-6zM264 245h6v5h-6zM214 250h7v6h-7zM221 250h6v6h-6zM221 256h6v5h-6zM227 256h6v5h-6zM476 256h6v5h-6zM227 271h6v5h-6zM233 271h6v5h-6zM488 271h6v5h-6zM494 271h6v5h-6zM513 286h6v5h-6zM519 286h6v5h-6zM75 291h3v6h-3zM507 291h6v6h-6zM513 291h6v6h-6zM519 291h6v6h-6zM75 297h3v5h-3zM507 297h6v5h-6zM513 297h6v5h-6zM519 297h6v5h-6zM84 307h6v5h-6zM90 307h6v5h-6zM233 307h6v5h-6zM109 322h6v5h-6zM115 322h6v5h-6zM121 322h6v5h-6zM127 322h7v5h-7zM239 332h7v6h-7zM246 332h6v6h-6zM252 332h6v6h-6zM239 338h7v5h-7zM246 338h6v5h-6zM252 338h6v5h-6zM140 343h6v5h-6zM146 343h6v5h-6zM152 343h7v5h-7zM146 348h6v5h-6zM159 348h6v5h-6zM233 348h6v5h-6zM239 348h7v5h-7zM246 348h6v5h-6zM233 353h6v5h-6zM239 353h7v5h-7zM246 353h6v5h-6zM233 358h6v5h-6zM239 358h7v5h-7zM246 358h6v5h-6zM165 363h6v5h-6zM171 363h6v5h-6zM177 363h6v5h-6zM171 368h6v6h-6zM177 368h6v6h-6zM183 368h7v6h-7zM190 368h6v6h-6zM196 374h6v5h-6zM227 374h6v5h-6zM233 374h6v5h-6zM239 374h7v5h-7zM507 374h6v5h-6zM513 374h6v5h-6zM519 374h6v5h-6zM202 379h6v5h-6zM208 379h6v5h-6zM214 379h7v5h-7zM221 379h6v5h-6zM75 384h3v5h-3zM78 384h6v5h-6zM513 384h6v5h-6zM519 384h6v5h-6zM233 404h6v5h-6zM239 404h7v5h-7zM246 404h6v5h-6zM252 404h6v5h-6zM258 404h6v5h-6zM264 404h6v5h-6zM233 409h6v6h-6zM239 409h7v6h-7zM246 409h6v6h-6zM252 409h6v6h-6zM258 409h6v6h-6zM264 409h6v6h-6zM233 415h6v4h-6zM239 415h7v4h-7zM246 415h6v4h-6zM252 415h6v4h-6zM258 415h6v4h-6zM264 415h6v4h-6z"/><path fill="#940ad9" d="M78 179h6v5h-6zM84 179h6v5h-6zM90 179h6v5h-6zM96 179h7v5h-7zM103 179h6v5h-6zM109 179h6v5h-6zM115 179h6v5h-6zM121 179h6v5h-6zM127 179h7v5h-7zM134 179h6v5h-6zM140 179h6v5h-6zM146 179h6v5h-6zM494 179h6v5h-6zM84 184h6v5h-6zM90 184h6v5h-6zM96 184h7v5h-7zM103 184h6v5h-6zM109 184h6v5h-6zM115 184h6v5h-6zM134 189h6v5h-6zM140 189h6v5h-6zM146 189h6v5h-6zM152 194h7v5h-7zM159 194h6v5h-6zM165 194h6v5h-6zM171 194h6v5h-6zM177 194h6v5h-6zM183 194h7v5h-7zM190 194h6v5h-6zM208 194h6v5h-6zM469 199h7v5h-7zM196 204h6v5h-6zM202 204h6v5h-6zM208 204h6v5h-6zM214 204h7v5h-7zM221 204h6v5h-6zM227 204h6v5h-6zM233 204h6v5h-6zM239 204h7v5h-7zM246 204h6v5h-6zM252 204h6v5h-6zM196 209h6v5h-6zM202 209h6v5h-6zM208 209h6v5h-6zM214 209h7v5h-7zM463 209h6v5h-6zM196 214h6v6h-6zM202 214h6v6h-6zM208 214h6v6h-6zM214 214h7v6h-7zM463 214h6v6h-6zM202 220h6v5h-6zM208 220h6v5h-6zM214 220h7v5h-7zM463 220h6v5h-6zM463 225h6v5h-6zM463 230h6v5h-6zM252 235h6v5h-6zM463 235h6v5h-6zM233 250h6v6h-6zM239 250h7v6h-7zM246 250h6v6h-6zM252 250h6v6h-6zM258 250h6v6h-6zM264 250h6v6h-6zM469 250h7v6h-7zM233 256h6v5h-6zM239 256h7v5h-7zM246 256h6v5h-6zM252 256h6v5h-6zM258 256h6v5h-6zM264 256h6v5h-6zM469 256h7v5h-7zM233 261h6v5h-6zM239 261h7v5h-7zM246 261h6v5h-6zM469 261h7v5h-7zM476 261h6v5h-6zM476 271h6v5h-6zM482 271h6v5h-6zM239 276h7v5h-7zM482 276h6v5h-6zM488 276h6v5h-6zM239 281h7v5h-7zM482 281h6v5h-6zM488 281h6v5h-6zM494 281h6v5h-6zM488 286h6v5h-6zM494 286h6v5h-6zM500 286h7v5h-7zM507 286h6v5h-6zM494 291h6v6h-6zM500 291h7v6h-7zM494 297h6v5h-6zM500 297h7v5h-7zM494 302h6v5h-6zM500 302h7v5h-7zM507 302h6v5h-6zM75 307h3v5h-3zM78 307h6v5h-6zM500 307h7v5h-7zM507 307h6v5h-6zM513 307h6v5h-6zM519 307h6v5h-6zM84 317h6v5h-6zM90 317h6v5h-6zM96 317h7v5h-7zM103 317h6v5h-6zM84 322h6v5h-6zM90 322h6v5h-6zM96 322h7v5h-7zM103 322h6v5h-6zM96 327h7v5h-7zM103 327h6v5h-6zM109 327h6v5h-6zM115 327h6v5h-6zM96 332h7v6h-7zM103 332h6v6h-6zM109 332h6v6h-6zM115 332h6v6h-6zM121 332h6v6h-6zM258 332h6v6h-6zM264 332h6v6h-6zM109 338h6v5h-6zM115 338h6v5h-6zM121 338h6v5h-6zM127 338h7v5h-7zM258 338h6v5h-6zM264 338h6v5h-6zM109 343h6v5h-6zM115 343h6v5h-6zM121 343h6v5h-6zM127 343h7v5h-7zM134 343h6v5h-6zM121 348h6v5h-6zM127 348h7v5h-7zM134 348h6v5h-6zM140 348h6v5h-6zM252 348h6v5h-6zM258 348h6v5h-6zM264 348h6v5h-6zM121 353h6v5h-6zM127 353h7v5h-7zM134 353h6v5h-6zM140 353h6v5h-6zM146 353h6v5h-6zM252 353h6v5h-6zM258 353h6v5h-6zM264 353h6v5h-6zM127 358h7v5h-7zM134 358h6v5h-6zM140 358h6v5h-6zM146 358h6v5h-6zM252 358h6v5h-6zM258 358h6v5h-6zM264 358h6v5h-6zM134 363h6v5h-6zM140 363h6v5h-6zM146 363h6v5h-6zM152 363h7v5h-7zM159 363h6v5h-6zM258 363h6v5h-6zM264 363h6v5h-6zM140 368h6v6h-6zM146 368h6v6h-6zM152 368h7v6h-7zM159 368h6v6h-6zM165 368h6v6h-6zM258 368h6v6h-6zM264 368h6v6h-6zM140 374h6v5h-6zM146 374h6v5h-6zM152 374h7v5h-7zM159 374h6v5h-6zM165 374h6v5h-6zM171 374h6v5h-6zM264 374h6v5h-6zM146 379h6v5h-6zM152 379h7v5h-7zM159 379h6v5h-6zM165 379h6v5h-6zM171 379h6v5h-6zM177 379h6v5h-6zM183 379h7v5h-7zM190 379h6v5h-6zM264 379h6v5h-6zM196 384h6v5h-6zM202 384h6v5h-6zM196 389h6v5h-6zM202 389h6v5h-6zM214 404h7v5h-7zM221 404h6v5h-6zM227 404h6v5h-6zM283 404h6v5h-6zM214 409h7v6h-7zM221 409h6v6h-6zM227 409h6v6h-6zM283 409h6v6h-6zM214 415h7v4h-7zM221 415h6v4h-6zM227 415h6v4h-6zM283 415h6v4h-6z"/><path fill="#a5137d" d="M507 179h6v5h-6zM115 189h6v5h-6zM488 194h6v5h-6zM476 204h6v5h-6zM134 209h6v5h-6zM152 225h7v5h-7zM159 225h6v5h-6zM165 225h6v5h-6zM171 225h6v5h-6zM177 225h6v5h-6zM183 225h7v5h-7zM190 225h6v5h-6zM476 235h6v5h-6zM221 240h6v5h-6zM190 245h6v5h-6zM202 250h6v6h-6zM208 250h6v6h-6zM482 250h6v6h-6zM214 261h7v5h-7zM500 261h7v5h-7zM494 266h6v5h-6zM507 266h6v5h-6zM221 271h6v5h-6zM513 271h6v5h-6zM78 286h6v5h-6zM96 302h7v5h-7zM103 302h6v5h-6zM109 302h6v5h-6zM115 302h6v5h-6zM127 317h7v5h-7zM134 317h6v5h-6zM134 322h6v5h-6zM140 322h6v5h-6zM227 322h6v5h-6zM140 327h6v5h-6zM146 327h6v5h-6zM152 332h7v6h-7zM159 338h6v5h-6zM227 343h6v5h-6zM171 348h6v5h-6zM227 348h6v5h-6zM221 353h6v5h-6zM227 353h6v5h-6zM177 358h6v5h-6zM221 358h6v5h-6zM227 358h6v5h-6zM214 363h7v5h-7zM221 363h6v5h-6zM202 368h6v6h-6zM208 368h6v6h-6z"/><path fill="#980bca" d="M78 184h6v5h-6zM482 184h6v5h-6zM488 184h6v5h-6zM134 194h6v5h-6zM140 194h6v5h-6zM146 194h6v5h-6zM476 194h6v5h-6zM140 199h6v5h-6zM146 199h6v5h-6zM152 199h7v5h-7zM159 199h6v5h-6zM165 199h6v5h-6zM171 199h6v5h-6zM177 199h6v5h-6zM183 199h7v5h-7zM190 199h6v5h-6zM208 199h6v5h-6zM140 204h6v5h-6zM146 204h6v5h-6zM152 204h7v5h-7zM159 204h6v5h-6zM165 204h6v5h-6zM171 204h6v5h-6zM177 204h6v5h-6zM183 204h7v5h-7zM190 204h6v5h-6zM469 204h7v5h-7zM140 209h6v5h-6zM146 209h6v5h-6zM221 209h6v5h-6zM227 209h6v5h-6zM233 209h6v5h-6zM239 209h7v5h-7zM246 209h6v5h-6zM252 209h6v5h-6zM233 214h6v6h-6zM239 214h7v6h-7zM246 214h6v6h-6zM252 214h6v6h-6zM196 220h6v5h-6zM233 220h6v5h-6zM239 220h7v5h-7zM246 220h6v5h-6zM202 225h6v5h-6zM208 225h6v5h-6zM214 225h7v5h-7zM233 225h6v5h-6zM239 225h7v5h-7zM246 225h6v5h-6zM233 230h6v5h-6zM239 230h7v5h-7zM246 230h6v5h-6zM208 240h6v5h-6zM463 240h6v5h-6zM469 240h7v5h-7zM214 245h7v5h-7zM233 245h6v5h-6zM239 245h7v5h-7zM246 245h6v5h-6zM252 245h6v5h-6zM463 245h6v5h-6zM469 245h7v5h-7zM227 261h6v5h-6zM227 266h6v5h-6zM233 266h6v5h-6zM476 266h6v5h-6zM482 266h6v5h-6zM494 276h6v5h-6zM500 276h7v5h-7zM507 276h6v5h-6zM500 281h7v5h-7zM507 281h6v5h-6zM513 281h6v5h-6zM75 302h3v5h-3zM78 302h6v5h-6zM513 302h6v5h-6zM519 302h6v5h-6zM84 312h6v5h-6zM90 312h6v5h-6zM96 312h7v5h-7zM103 312h6v5h-6zM233 312h6v5h-6zM233 317h6v5h-6zM233 322h6v5h-6zM233 327h6v5h-6zM239 327h7v5h-7zM246 343h6v5h-6zM252 343h6v5h-6zM258 343h6v5h-6zM152 348h7v5h-7zM152 353h7v5h-7zM159 353h6v5h-6zM152 358h7v5h-7zM159 358h6v5h-6zM239 363h7v5h-7zM246 363h6v5h-6zM252 363h6v5h-6zM239 368h7v6h-7zM246 368h6v6h-6zM252 368h6v6h-6zM75 374h3v5h-3zM78 374h6v5h-6zM84 374h6v5h-6zM90 374h6v5h-6zM177 374h6v5h-6zM183 374h7v5h-7zM190 374h6v5h-6zM246 374h6v5h-6zM252 374h6v5h-6zM258 374h6v5h-6zM196 379h6v5h-6zM227 379h6v5h-6zM233 379h6v5h-6zM239 379h7v5h-7zM246 379h6v5h-6zM252 379h6v5h-6zM258 379h6v5h-6zM84 384h6v5h-6zM208 384h6v5h-6zM214 384h7v5h-7zM221 384h6v5h-6zM227 384h6v5h-6zM233 384h6v5h-6zM239 384h7v5h-7zM246 384h6v5h-6zM252 384h6v5h-6zM258 384h6v5h-6zM264 384h6v5h-6zM208 389h6v5h-6zM214 389h7v5h-7zM221 389h6v5h-6zM227 389h6v5h-6zM233 389h6v5h-6zM239 389h7v5h-7zM246 389h6v5h-6zM252 389h6v5h-6zM258 389h6v5h-6zM264 389h6v5h-6zM208 394h6v5h-6zM214 394h7v5h-7zM221 394h6v5h-6zM227 394h6v5h-6zM233 394h6v5h-6zM239 394h7v5h-7zM246 394h6v5h-6zM252 394h6v5h-6zM258 394h6v5h-6zM264 394h6v5h-6zM214 399h7v5h-7zM221 399h6v5h-6zM227 399h6v5h-6zM233 399h6v5h-6zM239 399h7v5h-7zM246 399h6v5h-6zM252 399h6v5h-6zM258 399h6v5h-6zM264 399h6v5h-6z"/><path fill="#9108e6" d="M127 184h7v5h-7zM134 184h6v5h-6zM140 184h6v5h-6zM146 184h6v5h-6zM476 184h6v5h-6zM152 189h7v5h-7zM159 189h6v5h-6zM165 189h6v5h-6zM171 189h6v5h-6zM177 189h6v5h-6zM183 189h7v5h-7zM190 189h6v5h-6zM469 189h7v5h-7zM476 189h6v5h-6zM469 194h7v5h-7zM196 199h6v5h-6zM202 199h6v5h-6zM214 199h7v5h-7zM221 199h6v5h-6zM295 245h7v5h-7zM302 245h6v5h-6zM308 245h6v5h-6zM239 286h7v5h-7zM239 291h7v6h-7zM239 297h7v5h-7zM75 312h3v5h-3zM78 312h6v5h-6zM500 312h7v5h-7zM507 312h6v5h-6zM513 312h6v5h-6zM519 312h6v5h-6zM239 322h7v5h-7zM246 322h6v5h-6zM246 327h6v5h-6zM252 327h6v5h-6zM264 343h6v5h-6zM469 374h7v5h-7zM476 374h6v5h-6zM482 374h6v5h-6zM488 374h6v5h-6zM494 374h6v5h-6zM500 374h7v5h-7zM152 384h7v5h-7zM159 384h6v5h-6zM165 384h6v5h-6zM171 384h6v5h-6zM177 384h6v5h-6zM183 384h7v5h-7zM190 384h6v5h-6zM75 389h3v5h-3zM78 389h6v5h-6zM196 394h6v5h-6zM202 394h6v5h-6zM196 399h6v5h-6zM202 399h6v5h-6zM208 399h6v5h-6zM283 399h6v5h-6zM295 409h7v6h-7zM295 415h7v4h-7z"/><path fill="#a81566" d="M500 184h7v5h-7zM121 189h6v5h-6zM127 189h7v5h-7zM482 199h6v5h-6zM171 230h6v5h-6zM177 230h6v5h-6zM183 230h7v5h-7zM190 230h6v5h-6zM476 230h6v5h-6zM227 235h6v5h-6zM227 240h6v5h-6zM183 245h7v5h-7zM482 245h6v5h-6zM196 250h6v6h-6zM208 256h6v5h-6zM488 261h6v5h-6zM494 261h6v5h-6zM519 276h6v5h-6zM227 286h6v5h-6zM90 297h6v5h-6zM121 307h6v5h-6zM127 312h7v5h-7zM227 317h6v5h-6zM221 322h6v5h-6zM221 327h6v5h-6zM146 332h6v6h-6zM221 332h6v6h-6zM221 338h6v5h-6zM165 343h6v5h-6zM221 343h6v5h-6zM221 348h6v5h-6zM177 353h6v5h-6zM214 353h7v5h-7zM183 358h7v5h-7zM208 358h6v5h-6zM214 358h7v5h-7zM196 363h6v5h-6z"/><path fill="#ae1a35" d="M507 184h6v5h-6zM519 189h6v5h-6zM494 194h6v5h-6zM488 199h6v5h-6zM476 214h6v6h-6zM476 220h6v5h-6zM146 230h6v5h-6zM152 230h7v5h-7zM159 230h6v5h-6zM165 230h6v5h-6zM177 235h6v5h-6zM183 235h7v5h-7zM190 235h6v5h-6zM482 235h6v5h-6zM488 245h6v5h-6zM183 250h7v6h-7zM494 250h6v6h-6zM208 261h6v5h-6zM507 261h6v5h-6zM214 266h7v5h-7zM513 266h6v5h-6zM75 276h3v5h-3zM96 297h7v5h-7zM103 297h6v5h-6zM121 302h6v5h-6zM140 317h6v5h-6zM152 327h7v5h-7zM214 332h7v6h-7zM214 338h7v5h-7zM214 343h7v5h-7zM183 353h7v5h-7zM202 353h6v5h-6zM208 353h6v5h-6z"/><path fill="#ab174e" d="M75 189h3v5h-3zM476 209h6v5h-6zM476 225h6v5h-6zM177 240h6v5h-6zM482 240h6v5h-6zM177 245h6v5h-6zM190 250h6v6h-6zM488 250h6v6h-6zM202 256h6v5h-6zM488 256h6v5h-6zM494 256h6v5h-6zM500 256h7v5h-7zM221 276h6v5h-6zM84 291h6v6h-6zM214 322h7v5h-7zM159 332h6v6h-6zM165 338h6v5h-6zM171 343h6v5h-6zM177 348h6v5h-6zM214 348h7v5h-7zM190 358h6v5h-6zM196 358h6v5h-6zM202 358h6v5h-6zM202 363h6v5h-6zM208 363h6v5h-6z"/><path fill="#b11d1b" d="M500 189h7v5h-7zM78 194h6v5h-6zM84 194h6v5h-6zM127 194h7v5h-7zM482 204h6v5h-6zM488 240h6v5h-6zM177 250h6v6h-6zM196 256h6v5h-6zM507 256h6v5h-6zM202 261h6v5h-6zM78 281h6v5h-6zM227 291h6v6h-6zM109 297h6v5h-6zM115 297h6v5h-6zM127 307h7v5h-7zM134 312h6v5h-6zM146 322h6v5h-6zM214 327h7v5h-7zM165 332h6v6h-6zM171 338h6v5h-6zM208 348h6v5h-6zM190 353h6v5h-6zM196 353h6v5h-6z"/><path fill="#c53600" d="M507 189h6v5h-6zM78 199h6v5h-6zM84 199h6v5h-6zM513 199h6v5h-6zM500 204h7v5h-7zM513 204h6v5h-6zM519 204h6v5h-6zM519 214h6v6h-6zM75 225h3v5h-3zM78 225h6v5h-6zM134 225h6v5h-6zM75 230h3v5h-3zM78 230h6v5h-6zM75 235h3v5h-3zM78 235h6v5h-6zM171 256h6v5h-6zM208 276h6v5h-6zM214 281h7v5h-7zM115 286h6v5h-6zM127 291h7v6h-7zM221 291h6v6h-6zM134 302h6v5h-6zM140 307h6v5h-6zM146 307h6v5h-6zM165 307h6v5h-6zM171 307h6v5h-6zM221 312h6v5h-6zM177 317h6v5h-6zM183 317h7v5h-7zM171 322h6v5h-6zM177 322h6v5h-6zM183 322h7v5h-7zM190 322h6v5h-6zM177 327h6v5h-6zM183 327h7v5h-7zM190 327h6v5h-6z"/><path fill="#ba2600" d="M513 189h6v5h-6zM75 194h3v5h-3zM90 194h6v5h-6zM96 194h7v5h-7zM103 194h6v5h-6zM115 194h6v5h-6zM121 194h6v5h-6zM494 199h6v5h-6zM507 209h6v5h-6zM134 214h6v6h-6zM482 214h6v6h-6zM482 220h6v5h-6zM140 225h6v5h-6zM482 225h6v5h-6zM488 235h6v5h-6zM165 240h6v5h-6zM165 245h6v5h-6zM165 250h6v6h-6zM171 250h6v6h-6zM507 250h6v6h-6zM196 261h6v5h-6zM202 266h6v5h-6zM214 276h7v5h-7zM96 291h7v6h-7zM103 291h6v6h-6zM109 291h6v6h-6zM115 291h6v6h-6zM146 317h6v5h-6zM152 317h7v5h-7zM214 317h7v5h-7zM159 322h6v5h-6zM165 322h6v5h-6zM171 332h6v6h-6zM208 332h6v6h-6zM177 338h6v5h-6z"/><path fill="#bd2a00" d="M109 194h6v5h-6zM488 209h6v5h-6zM500 214h7v6h-7zM513 214h6v6h-6zM500 220h7v5h-7zM513 220h6v5h-6zM507 225h6v5h-6zM140 230h6v5h-6zM488 230h6v5h-6zM152 240h7v5h-7zM494 240h6v5h-6zM159 245h6v5h-6zM500 245h7v5h-7zM507 245h6v5h-6zM183 256h7v5h-7zM90 286h6v5h-6zM121 291h6v6h-6zM127 302h7v5h-7zM227 307h6v5h-6zM140 312h6v5h-6zM152 312h7v5h-7zM159 312h6v5h-6zM165 312h6v5h-6zM159 317h6v5h-6zM165 317h6v5h-6zM208 327h6v5h-6zM183 343h7v5h-7zM190 343h6v5h-6zM196 343h6v5h-6zM202 343h6v5h-6z"/><path fill="#7903fc" d="M233 194h6v5h-6zM239 194h7v5h-7zM258 199h6v5h-6zM264 199h6v5h-6zM270 199h7v5h-7zM302 204h6v5h-6zM308 204h6v5h-6zM258 209h6v5h-6zM264 209h6v5h-6zM444 209h7v5h-7zM444 214h7v6h-7zM413 256h7v5h-7zM420 256h6v5h-6zM426 256h6v5h-6zM432 266h6v5h-6zM432 271h6v5h-6zM270 276h7v5h-7zM277 276h6v5h-6zM283 276h6v5h-6zM289 281h6v5h-6zM295 281h7v5h-7zM302 281h6v5h-6zM308 281h6v5h-6zM314 291h6v6h-6zM320 291h6v6h-6zM326 291h7v6h-7zM333 291h6v6h-6zM420 291h6v6h-6zM426 291h6v6h-6zM420 297h6v5h-6zM426 297h6v5h-6zM264 302h6v5h-6zM270 302h7v5h-7zM413 312h7v5h-7zM420 312h6v5h-6zM277 317h6v5h-6zM283 317h6v5h-6zM407 322h6v5h-6zM413 322h7v5h-7zM289 327h6v5h-6zM295 327h7v5h-7zM302 327h6v5h-6zM308 327h6v5h-6zM407 327h6v5h-6zM413 327h7v5h-7zM302 338h6v5h-6zM314 338h6v5h-6zM320 338h6v5h-6zM326 338h7v5h-7zM302 343h6v5h-6zM370 348h6v5h-6zM376 348h6v5h-6zM382 348h7v5h-7zM389 348h6v5h-6zM395 348h6v5h-6zM401 348h6v5h-6zM314 374h6v5h-6zM320 374h6v5h-6zM326 374h7v5h-7zM333 374h6v5h-6zM339 374h6v5h-6zM357 384h7v5h-7zM364 384h6v5h-6zM370 384h6v5h-6zM376 384h6v5h-6zM382 384h7v5h-7zM476 384h6v5h-6zM482 384h6v5h-6zM389 389h6v5h-6zM395 389h6v5h-6zM401 389h6v5h-6zM407 399h6v5h-6zM413 399h7v5h-7zM420 399h6v5h-6zM357 404h7v5h-7zM364 404h6v5h-6zM395 404h6v5h-6zM401 404h6v5h-6zM494 404h6v5h-6zM357 409h7v6h-7zM364 409h6v6h-6zM370 409h6v6h-6zM376 409h6v6h-6zM382 409h7v6h-7zM389 409h6v6h-6z"/><path fill="#7d04ff" d="M246 194h6v5h-6zM252 194h6v5h-6zM258 194h6v5h-6zM264 194h6v5h-6zM289 209h6v5h-6zM302 209h6v5h-6zM308 209h6v5h-6zM289 214h6v6h-6zM264 220h6v5h-6zM270 220h7v5h-7zM277 220h6v5h-6zM444 220h7v5h-7zM295 225h7v5h-7zM302 225h6v5h-6zM308 225h6v5h-6zM444 225h7v5h-7zM432 230h6v5h-6zM438 230h6v5h-6zM444 230h7v5h-7zM270 271h7v5h-7zM277 271h6v5h-6zM283 271h6v5h-6zM289 276h6v5h-6zM295 276h7v5h-7zM302 276h6v5h-6zM308 276h6v5h-6zM258 281h6v5h-6zM264 281h6v5h-6zM314 286h6v5h-6zM320 286h6v5h-6zM326 286h7v5h-7zM333 286h6v5h-6zM420 302h6v5h-6zM426 302h6v5h-6zM426 307h6v5h-6zM432 307h6v5h-6zM420 317h6v5h-6zM426 317h6v5h-6zM277 322h6v5h-6zM283 322h6v5h-6zM420 322h6v5h-6zM426 322h6v5h-6zM413 332h7v6h-7zM420 332h6v6h-6zM426 332h6v6h-6zM432 332h6v6h-6zM438 332h6v6h-6zM444 332h7v6h-7zM295 338h7v5h-7zM295 343h7v5h-7zM314 343h6v5h-6zM320 343h6v5h-6zM302 348h6v5h-6zM302 353h6v5h-6zM370 353h6v5h-6zM376 353h6v5h-6zM382 353h7v5h-7zM389 353h6v5h-6zM395 353h6v5h-6zM401 353h6v5h-6zM302 358h6v5h-6zM364 358h6v5h-6zM370 358h6v5h-6zM376 358h6v5h-6zM382 358h7v5h-7zM389 358h6v5h-6zM395 358h6v5h-6zM401 358h6v5h-6zM302 363h6v5h-6zM357 363h7v5h-7zM364 363h6v5h-6zM370 363h6v5h-6zM376 363h6v5h-6zM382 363h7v5h-7zM389 363h6v5h-6zM395 363h6v5h-6zM401 363h6v5h-6zM302 368h6v6h-6zM345 368h6v6h-6zM351 368h6v6h-6zM357 368h7v6h-7zM364 368h6v6h-6zM370 368h6v6h-6zM376 368h6v6h-6zM382 368h7v6h-7zM389 368h6v6h-6zM395 368h6v6h-6zM401 368h6v6h-6zM302 374h6v5h-6zM345 374h6v5h-6zM351 374h6v5h-6zM357 374h7v5h-7zM364 374h6v5h-6zM370 374h6v5h-6zM376 374h6v5h-6zM382 374h7v5h-7zM389 374h6v5h-6zM395 374h6v5h-6zM401 374h6v5h-6zM302 379h6v5h-6zM302 384h6v5h-6zM389 384h6v5h-6zM395 384h6v5h-6zM401 384h6v5h-6zM407 384h6v5h-6zM413 384h7v5h-7zM420 384h6v5h-6zM426 384h6v5h-6zM432 384h6v5h-6zM438 384h6v5h-6zM444 384h7v5h-7zM451 384h6v5h-6zM457 384h6v5h-6zM463 384h6v5h-6zM469 384h7v5h-7zM302 389h6v5h-6zM407 389h6v5h-6zM413 389h7v5h-7zM420 389h6v5h-6zM426 389h6v5h-6zM432 389h6v5h-6zM438 389h6v5h-6zM444 389h7v5h-7zM451 389h6v5h-6zM457 389h6v5h-6zM463 389h6v5h-6zM469 389h7v5h-7zM407 394h6v5h-6zM413 394h7v5h-7zM420 394h6v5h-6zM426 394h6v5h-6zM432 394h6v5h-6zM438 394h6v5h-6zM444 394h7v5h-7zM451 394h6v5h-6zM457 394h6v5h-6zM463 394h6v5h-6zM469 394h7v5h-7zM426 399h6v5h-6zM432 399h6v5h-6zM438 399h6v5h-6zM444 399h7v5h-7zM451 399h6v5h-6zM457 399h6v5h-6zM463 399h6v5h-6zM469 399h7v5h-7zM426 404h6v5h-6zM432 404h6v5h-6zM438 404h6v5h-6zM444 404h7v5h-7zM451 404h6v5h-6zM457 404h6v5h-6zM463 404h6v5h-6zM469 404h7v5h-7zM476 404h6v5h-6zM482 404h6v5h-6zM488 404h6v5h-6zM395 409h6v6h-6zM401 409h6v6h-6zM407 409h6v6h-6zM413 409h7v6h-7zM420 409h6v6h-6z"/><path fill="#c23200" d="M500 194h7v5h-7zM513 194h6v5h-6zM127 199h7v5h-7zM519 199h6v5h-6zM134 220h6v5h-6zM488 220h6v5h-6zM519 220h6v5h-6zM488 225h6v5h-6zM494 225h6v5h-6zM519 225h6v5h-6zM146 240h6v5h-6zM152 245h7v5h-7zM519 245h6v5h-6zM513 250h6v6h-6zM177 256h6v5h-6zM513 256h6v5h-6zM196 266h6v5h-6zM75 271h3v5h-3zM103 286h6v5h-6zM109 286h6v5h-6zM127 297h7v5h-7zM152 307h7v5h-7zM159 307h6v5h-6zM171 317h6v5h-6zM202 317h6v5h-6zM196 327h6v5h-6zM177 332h6v6h-6zM183 332h7v6h-7zM190 332h6v6h-6zM196 332h6v6h-6z"/><path fill="#d75b00" d="M507 194h6v5h-6zM90 220h6v5h-6zM127 235h7v5h-7zM96 245h7v5h-7zM146 256h6v5h-6zM519 256h6v5h-6zM183 266h7v5h-7zM90 276h6v5h-6zM171 291h6v6h-6zM177 291h6v6h-6zM183 291h7v6h-7zM202 297h6v5h-6z"/><path fill="#bf2e00" d="M519 194h6v5h-6zM494 204h6v5h-6zM494 209h6v5h-6zM500 209h7v5h-7zM513 209h6v5h-6zM488 214h6v6h-6zM494 214h6v6h-6zM494 220h6v5h-6zM500 225h7v5h-7zM513 225h6v5h-6zM494 230h6v5h-6zM500 230h7v5h-7zM507 230h6v5h-6zM513 230h6v5h-6zM519 230h6v5h-6zM140 235h6v5h-6zM494 235h6v5h-6zM500 235h7v5h-7zM507 235h6v5h-6zM513 235h6v5h-6zM519 235h6v5h-6zM500 240h7v5h-7zM507 240h6v5h-6zM513 240h6v5h-6zM519 240h6v5h-6zM513 245h6v5h-6zM159 250h6v6h-6zM190 261h6v5h-6zM519 266h6v5h-6zM202 271h6v5h-6zM78 276h6v5h-6zM84 281h6v5h-6zM96 286h7v5h-7zM221 286h6v5h-6zM227 302h6v5h-6zM134 307h6v5h-6zM146 312h6v5h-6zM171 312h6v5h-6zM208 317h6v5h-6zM196 322h6v5h-6zM171 327h6v5h-6zM202 327h6v5h-6zM202 332h6v6h-6zM183 338h7v5h-7zM190 338h6v5h-6zM196 338h6v5h-6zM202 338h6v5h-6z"/><path fill="#c83a00" d="M75 199h3v5h-3zM75 204h3v5h-3zM78 204h6v5h-6zM127 204h7v5h-7zM507 204h6v5h-6zM75 209h3v5h-3zM78 209h6v5h-6zM519 209h6v5h-6zM75 214h3v6h-3zM78 214h6v6h-6zM75 220h3v5h-3zM78 220h6v5h-6zM84 225h6v5h-6zM134 230h6v5h-6zM75 240h3v5h-3zM146 245h6v5h-6zM152 250h7v6h-7zM165 256h6v5h-6zM75 266h3v5h-3zM202 276h6v5h-6zM121 286h6v5h-6zM221 297h6v5h-6zM152 302h7v5h-7zM159 302h6v5h-6zM177 312h6v5h-6zM183 312h7v5h-7zM208 312h6v5h-6zM190 317h6v5h-6zM196 317h6v5h-6z"/><path fill="#cf4900" d="M90 199h6v5h-6zM103 199h6v5h-6zM127 220h7v5h-7zM90 225h6v5h-6zM96 235h7v5h-7zM96 240h7v5h-7zM146 250h6v6h-6zM75 261h3v5h-3zM177 261h6v5h-6zM78 271h6v5h-6zM190 271h6v5h-6zM84 276h6v5h-6zM96 281h7v5h-7zM134 291h6v6h-6zM140 297h6v5h-6zM146 297h6v5h-6zM152 297h7v5h-7zM159 297h6v5h-6zM165 297h6v5h-6zM214 297h7v5h-7zM190 307h6v5h-6zM202 307h6v5h-6zM208 307h6v5h-6z"/><path fill="#d24f00" d="M96 199h7v5h-7zM127 225h7v5h-7zM78 245h6v5h-6zM140 245h6v5h-6zM75 250h3v6h-3zM519 250h6v6h-6zM75 256h3v5h-3zM152 256h7v5h-7zM171 261h6v5h-6zM190 276h6v5h-6zM103 281h6v5h-6zM109 281h6v5h-6zM202 281h6v5h-6zM208 286h6v5h-6zM208 291h6v6h-6zM171 297h6v5h-6zM177 297h6v5h-6zM183 297h7v5h-7zM208 297h6v5h-6zM202 302h6v5h-6zM208 302h6v5h-6zM214 302h7v5h-7zM196 307h6v5h-6z"/><path fill="#cd4400" d="M109 199h6v5h-6zM115 199h6v5h-6zM127 214h7v6h-7zM78 240h6v5h-6zM84 240h6v5h-6zM90 240h6v5h-6zM140 240h6v5h-6zM75 245h3v5h-3zM159 256h6v5h-6zM519 261h6v5h-6zM196 276h6v5h-6zM208 281h6v5h-6zM214 291h7v6h-7zM177 302h6v5h-6zM183 302h7v5h-7zM221 302h6v5h-6zM221 307h6v5h-6zM190 312h6v5h-6zM196 312h6v5h-6z"/><path fill="#ca3f00" d="M121 199h6v5h-6zM500 199h7v5h-7zM84 204h6v5h-6zM84 209h6v5h-6zM127 209h7v5h-7zM84 214h6v6h-6zM84 220h6v5h-6zM84 230h6v5h-6zM90 230h6v5h-6zM84 235h6v5h-6zM90 235h6v5h-6zM134 235h6v5h-6zM183 261h7v5h-7zM190 266h6v5h-6zM196 271h6v5h-6zM90 281h6v5h-6zM127 286h7v5h-7zM214 286h7v5h-7zM134 297h6v5h-6zM140 302h6v5h-6zM146 302h6v5h-6zM165 302h6v5h-6zM171 302h6v5h-6zM177 307h6v5h-6zM183 307h7v5h-7zM202 312h6v5h-6zM214 312h7v5h-7z"/><path fill="#dc6800" d="M507 199h6v5h-6zM90 204h6v5h-6zM121 214h6v6h-6zM121 220h6v5h-6zM121 225h6v5h-6zM121 230h6v5h-6zM121 235h6v5h-6zM84 250h6v6h-6zM90 250h6v6h-6zM96 250h7v6h-7zM140 256h6v5h-6zM146 261h6v5h-6zM152 261h7v5h-7zM159 261h6v5h-6zM84 271h6v5h-6zM140 281h6v5h-6zM146 281h6v5h-6zM152 281h7v5h-7zM159 281h6v5h-6zM183 281h7v5h-7zM171 286h6v5h-6zM177 286h6v5h-6zM202 286h6v5h-6zM190 297h6v5h-6zM196 297h6v5h-6z"/><path fill="#e37e00" d="M96 204h7v5h-7zM103 204h6v5h-6zM90 209h6v5h-6zM115 225h6v5h-6zM109 230h6v5h-6zM109 235h6v5h-6zM109 240h6v5h-6zM121 240h6v5h-6zM84 266h6v5h-6zM121 276h6v5h-6zM190 291h6v6h-6z"/><path fill="#e07600" d="M109 204h6v5h-6zM90 214h6v6h-6zM115 230h6v5h-6zM115 235h6v5h-6zM84 256h6v5h-6zM159 266h6v5h-6zM165 266h6v5h-6zM171 266h6v5h-6zM134 271h6v5h-6zM159 271h6v5h-6zM165 271h6v5h-6zM171 271h6v5h-6zM196 291h6v6h-6z"/><path fill="#de6f00" d="M115 204h6v5h-6zM103 235h6v5h-6zM127 240h7v5h-7zM103 245h6v5h-6zM134 245h6v5h-6zM140 261h6v5h-6zM140 266h6v5h-6zM146 266h6v5h-6zM152 266h7v5h-7zM177 266h6v5h-6zM140 271h6v5h-6zM146 271h6v5h-6zM152 271h7v5h-7zM177 271h6v5h-6zM96 276h7v5h-7zM127 276h7v5h-7zM134 276h6v5h-6zM140 276h6v5h-6zM146 276h6v5h-6zM152 276h7v5h-7zM159 276h6v5h-6zM165 276h6v5h-6zM171 276h6v5h-6zM177 276h6v5h-6zM165 281h6v5h-6zM171 281h6v5h-6zM177 281h6v5h-6zM190 286h6v5h-6zM196 286h6v5h-6z"/><path fill="#d45500" d="M121 204h6v5h-6zM96 230h7v5h-7zM127 230h7v5h-7zM134 240h6v5h-6zM84 245h6v5h-6zM90 245h6v5h-6zM165 261h6v5h-6zM78 266h6v5h-6zM115 281h6v5h-6zM121 281h6v5h-6zM127 281h7v5h-7zM196 281h6v5h-6zM134 286h6v5h-6zM140 291h6v6h-6zM146 291h6v6h-6zM152 291h7v6h-7zM159 291h6v6h-6zM165 291h6v6h-6zM190 302h6v5h-6zM196 302h6v5h-6zM214 307h7v5h-7z"/><path fill="#b72300" d="M488 204h6v5h-6zM482 209h6v5h-6zM507 214h6v6h-6zM507 220h6v5h-6zM146 235h6v5h-6zM152 235h7v5h-7zM159 235h6v5h-6zM165 235h6v5h-6zM171 235h6v5h-6zM159 240h6v5h-6zM171 240h6v5h-6zM494 245h6v5h-6zM513 261h6v5h-6zM208 271h6v5h-6zM84 286h6v5h-6zM121 297h6v5h-6zM227 297h6v5h-6zM152 322h7v5h-7zM202 322h6v5h-6zM208 322h6v5h-6zM208 338h6v5h-6zM208 343h6v5h-6zM190 348h6v5h-6zM196 348h6v5h-6z"/><path fill="#eea800" d="M96 209h7v5h-7zM103 214h6v6h-6zM96 220h7v5h-7zM103 220h6v5h-6zM109 245h6v5h-6zM127 245h7v5h-7z"/><path fill="#e99600" d="M103 209h6v5h-6zM109 209h6v5h-6zM109 214h6v6h-6zM115 214h6v6h-6zM96 225h7v5h-7zM127 271h7v5h-7zM103 276h6v5h-6zM109 276h6v5h-6z"/><path fill="#e78e00" d="M115 209h6v5h-6zM109 220h6v5h-6zM115 276h6v5h-6z"/><path fill="#d96100" d="M121 209h6v5h-6zM103 240h6v5h-6zM78 250h6v6h-6zM140 250h6v6h-6zM78 256h6v5h-6zM78 261h6v5h-6zM183 271h7v5h-7zM183 276h7v5h-7zM134 281h6v5h-6zM190 281h6v5h-6zM140 286h6v5h-6zM146 286h6v5h-6zM152 286h7v5h-7zM159 286h6v5h-6zM165 286h6v5h-6zM183 286h7v5h-7zM202 291h6v6h-6z"/><path fill="#f0b200" d="M96 214h7v6h-7zM134 250h6v6h-6zM96 256h7v5h-7zM134 266h6v5h-6zM121 271h6v5h-6z"/><path fill="#9d0eb1" d="M152 214h7v6h-7zM159 214h6v6h-6zM165 214h6v6h-6zM171 214h6v6h-6zM177 214h6v6h-6zM183 214h7v6h-7zM190 214h6v6h-6z"/><path fill="#e58500" d="M115 220h6v5h-6zM109 225h6v5h-6zM103 230h6v5h-6zM115 240h6v5h-6zM103 250h6v6h-6zM90 256h6v5h-6zM84 261h6v5h-6zM90 271h6v5h-6z"/><path fill="#ec9f00" d="M103 225h6v5h-6zM90 261h6v5h-6zM90 266h6v5h-6z"/><path fill="#b42001" d="M482 230h6v5h-6zM171 245h6v5h-6zM500 250h7v6h-7zM190 256h6v5h-6zM208 266h6v5h-6zM214 271h7v5h-7zM519 271h6v5h-6zM221 281h6v5h-6zM90 291h6v6h-6zM227 312h6v5h-6zM221 317h6v5h-6zM159 327h6v5h-6zM165 327h6v5h-6zM177 343h6v5h-6zM183 348h7v5h-7zM202 348h6v5h-6z"/><path fill="#f9db00" d="M115 245h6v5h-6zM121 266h6v5h-6z"/><path fill="#f4c600" d="M121 245h6v5h-6zM127 250h7v6h-7zM103 256h6v5h-6zM127 266h7v5h-7zM115 271h6v5h-6z"/><path fill="#f2bb00" d="M109 250h6v6h-6zM134 256h6v5h-6zM134 261h6v5h-6zM96 271h7v5h-7z"/><path fill="#ffff00" d="M115 250h6v6h-6zM109 256h6v5h-6zM115 256h6v5h-6zM121 256h6v5h-6zM96 261h7v5h-7zM103 261h6v5h-6zM109 261h6v5h-6zM115 261h6v5h-6zM96 266h7v5h-7zM103 266h6v5h-6zM109 266h6v5h-6zM115 266h6v5h-6zM103 271h6v5h-6zM109 271h6v5h-6z"/><path fill="#fbe700" d="M121 250h6v6h-6z"/><path fill="#f7d000" d="M127 256h7v5h-7zM127 261h7v5h-7z"/><path fill="#fdf200" d="M121 261h6v5h-6z"/><path fill="#8305fe" d="M277 332h6v6h-6zM277 338h6v5h-6zM289 348h6v5h-6zM289 353h6v5h-6zM289 358h6v5h-6zM289 363h6v5h-6zM289 368h6v6h-6zM289 374h6v5h-6zM289 379h6v5h-6zM308 399h6v5h-6z"/><path fill="#8b07f4" d="M277 343h6v5h-6zM270 348h7v5h-7zM289 384h6v5h-6zM289 389h6v5h-6zM289 394h6v5h-6zM75 399h3v5h-3zM78 399h6v5h-6zM84 399h6v5h-6zM90 399h6v5h-6zM96 399h7v5h-7zM103 399h6v5h-6zM289 399h6v5h-6zM308 409h6v6h-6zM308 415h6v4h-6z"/><path fill="#8706fa" d="M277 348h6v5h-6zM277 353h6v5h-6zM277 358h6v5h-6zM308 404h6v5h-6z"/><path fill="#990cc2" d="M270 404h7v5h-7zM270 409h7v6h-7zM270 415h7v4h-7z"/></g>
<g fill="none" stroke="#0080ff" stroke-width="1" shape-rendering="crispEdges"><path d="M77.1 97.2L81.5 99.8L86.5 101.2L83.8 105.2L80.0 103.8L75.5 104.8"/><path d="M77.1 132.5L79.6 132.5"/><path d="M81.9 131.5L82.8 131.5"/><path d="M86.8 130.4L87.8 130.0"/><path d="M90.2 128.2L91.8 127.1"/><path d="M97.1 125.6L103.4 118.5L98.4 118.1L94.0 111.9L94.6 108.8L99.6 105.2L96.5 105.0L90.2 103.5L98.4 101.2L92.8 99.8L92.5 97.5L100.9 93.5L104.6 92.5L110.2 92.2L117.8 93.8L124.0 95.6L129.0 96.5L135.2 94.8L136.5 96.2L139.6 93.5L144.0 96.0L149.0 96.5L154.0 96.9"/><path d="M97.1 125.6L100.9 122.5L105.2 119.8L108.4 116.0L111.5 114.4L114.0 113.5L113.8 116.2L115.9 114.8L121.5 114.8L125.2 114.4L129.0 117.8L132.8 117.8L135.9 122.5L138.4 126.2L142.1 130.6L142.8 133.8L145.9 137.5L144.6 140.0L144.6 145.0"/><path d="M108.8 118.8L110.2 120.4"/><path d="M144.8 139.5L145.2 147.0L146.5 155.8L149.0 164.5L153.5 174.5L155.2 177.0"/><path d="M148.8 80.6L155.6 79.4"/><path d="M155.6 82.5L158.8 84.4L163.1 80.6L166.9 83.8L158.8 85.0L155.6 82.5"/><path d="M159.4 78.5L163.8 77.5"/><path d="M169.4 76.0L172.5 77.5L170.6 75.6L176.2 78.8L177.5 81.2L174.4 83.1L176.9 83.8L180.0 78.8L178.1 77.5"/><path d="M146.2 85.6L146.2 91.2L151.2 89.4L149.4 85.6L146.2 85.6"/><path d="M151.2 90.0L156.2 90.6L155.0 93.8L158.1 96.9L165.0 97.5L166.9 100.6L173.1 96.2L169.4 93.1L166.9 88.1L165.6 90.6L163.8 89.4L156.2 90.6"/><path d="M140.0 94.0L145.6 95.6L152.5 97.5L158.8 99.8L165.0 101.0L171.2 98.5L177.5 99.4L181.2 100.6L183.8 95.0L180.0 93.1L183.1 91.9L188.8 97.5L192.5 98.8L196.9 96.2"/><path d="M173.1 88.1L176.9 86.9L177.5 91.2L173.1 88.1"/><path d="M181.2 86.9L184.4 85.6L185.0 88.1L181.9 88.5L181.2 86.9"/><path d="M181.2 80.0L183.8 83.1L187.5 81.9L192.5 83.1L200.0 81.2L205.0 76.2L212.5 73.8L210.0 72.5L202.5 75.6L195.0 78.8L192.5 77.5L195.0 74.4L191.2 75.0L196.9 72.5L205.0 72.5L200.0 71.9L187.5 71.2L190.0 69.4L198.8 68.1L210.0 67.5L220.0 68.8"/><path d="M211.2 78.8L215.0 76.2L220.0 75.0"/><path d="M211.9 80.0L216.2 81.2L220.0 80.6"/><path d="M192.5 83.1L200.0 83.8L193.8 85.6L190.0 88.1L189.4 92.5L193.1 95.6L196.9 96.2L201.2 95.0L205.0 97.5L210.0 100.0L212.5 101.2L208.1 103.8L203.8 106.9L210.0 108.1L215.0 107.5L220.0 109.4"/><path d="M192.5 88.8L202.5 89.4L210.0 93.1L215.0 96.2L220.0 98.8"/><path d="M145.6 101.2L145.6 104.4L150.6 104.4L153.1 101.2L148.8 102.5L145.6 101.2"/><path d="M149.4 106.2L152.5 108.1L156.2 110.0L163.1 109.4L160.0 111.2L154.4 111.2L151.2 111.9"/><path d="M159.4 118.1L163.1 116.2L168.8 116.9L172.5 117.5L171.9 120.0"/><path d="M196.9 96.2L193.8 100.0L187.5 104.4L180.0 106.9L186.2 107.5L183.8 111.2L181.2 115.0L180.6 118.8"/><path d="M193.8 103.1L193.1 108.1L198.1 108.1L193.8 103.1"/><path d="M211.5 78.2L216.5 70.8L226.5 69.5L239.0 69.0L251.5 66.5L261.5 67.0L269.0 67.0L267.8 70.8L282.8 71.5L275.2 78.2L272.8 84.5L269.0 88.2L270.2 92.0L264.0 95.8L256.5 99.5L250.2 103.2L244.0 114.5L240.2 113.2L234.0 100.8L235.2 93.2L230.2 85.8L222.8 82.0L215.2 80.8L211.5 78.2"/><path d="M187.8 72.0L196.5 68.2L207.8 67.5L217.8 68.2L219.0 70.8L214.0 73.2L207.8 77.0L201.5 80.8L195.2 82.0L189.0 83.2L191.5 80.8L200.2 78.2L204.0 74.5L196.5 75.8L201.5 72.0L194.0 73.2L187.8 72.0"/><path d="M271.0 103.2L279.0 102.0L280.2 105.8L274.0 107.0L271.0 103.2"/><path d="M194.0 88.2L204.0 89.5L212.8 94.5L220.2 99.5L221.5 103.2L215.2 107.0L217.8 103.2L211.5 100.8L205.2 104.5L197.8 102.0L195.2 97.0L189.0 94.5L192.8 92.0L194.0 88.2"/><path d="M181.5 105.8L186.0 107.0L181.5 113.2L182.0 118.2L189.0 123.2L195.2 127.0L199.0 132.0L201.5 129.5L202.8 120.8L204.0 113.2L207.8 112.0L212.8 115.8L220.2 123.2L226.5 129.5L230.2 132.0L229.0 137.0L232.8 143.2L226.5 142.0L224.0 137.0L219.0 140.8L215.2 139.5L214.0 143.2L207.8 145.8L202.8 148.2L197.8 150.8L194.0 144.5L191.5 148.2L186.5 140.8L185.2 138.2"/><path d="M214.0 143.2L210.2 150.8L205.2 158.2L204.0 162.0L201.5 168.2L200.2 177.0"/><path d="M176.5 128.2L177.8 134.5"/><path d="M180.2 137.5L184.0 134.5"/><path d="M154.0 109.5L162.8 110.8"/><path d="M159.0 117.0L169.0 118.2L172.8 122.0L177.8 120.8"/><path d="M315.2 75.8L322.8 74.5L334.0 74.5L327.8 77.0L324.0 78.2L320.2 80.8L318.5 77.0L315.2 75.8"/><path d="M353.5 74.0L362.0 74.0"/><path d="M376.5 72.5L380.2 72.5"/><path d="M384.0 80.8L374.0 84.5L366.5 89.0L370.2 93.2L367.8 89.5L376.5 85.8L384.0 80.8"/><path d="M306.5 115.0L311.5 107.0L319.0 99.5L326.5 95.0L335.2 93.2L341.5 97.0L349.0 100.8L351.5 102.0L345.2 102.5L341.0 103.2L344.0 105.8L350.2 104.5L355.2 103.2L356.0 98.2L357.8 102.0L364.0 99.5L371.5 97.5L379.0 97.0L385.2 93.2L390.2 92.0L391.5 97.0L394.0 90.8L399.0 90.8L402.8 87.0L404.0 90.8L405.2 85.8L414.0 82.0L424.0 80.8L434.0 82.0"/><path d="M385.2 100.8L391.5 98.2L396.5 94.5L399.0 100.8L395.2 97.0L390.2 102.0"/><path d="M415.2 73.2L421.5 74.5L425.2 77.0L426.5 74.5L419.0 72.0L415.2 73.2"/><path d="M425.2 77.0L427.8 80.8"/><path d="M360.2 143.2L363.5 142.0L364.5 150.8L366.5 159.5L361.5 160.0L360.2 152.0L360.2 143.2"/><path d="M373.5 144.5L376.0 143.2L375.2 148.2L373.5 144.5"/><path d="M391.5 147.0L398.5 143.2"/><path d="M155.2 174.5L159.0 180.8L164.0 188.2L169.0 195.8L172.8 202.0L180.2 205.8L187.8 210.8L192.8 215.8L196.5 219.5L202.8 222.0"/><path d="M157.2 176.5L161.0 187.8L163.5 188.2L159.0 176.5"/><path d="M200.2 177.0L199.0 180.8L199.5 183.2L197.8 179.5L190.2 176.5L182.8 179.5L179.0 183.2L178.5 190.8L180.2 195.8L185.2 199.5L190.2 195.8L194.0 194.0L189.5 199.5L189.0 204.5L192.8 210.8L195.2 217.0L197.0 220.8L202.8 222.0"/><path d="M202.8 222.0L209.0 217.0L211.5 215.0L214.0 217.0L220.2 218.2L225.2 222.0L230.2 228.2L234.0 235.8L239.0 242.0L246.5 247.0L254.0 253.2L256.5 257.0"/><path d="M202.8 222.0L201.5 229.5L200.2 239.5L200.2 249.5L201.5 257.0"/><path d="M195.2 194.0L200.2 194.5L204.5 196.2"/><path d="M206.5 201.0L212.8 199.5"/><path d="M202.8 188.2L205.2 188.2"/><path d="M201.5 257.0L204.0 266.2L207.8 272.5L211.5 276.2L211.5 287.5L210.2 300.0L209.0 312.5L208.5 325.0L207.8 335.0L207.2 343.8L210.2 348.8L212.8 351.2L217.8 351.2L214.0 347.5L212.8 343.8L214.0 336.2L217.8 328.8L222.8 321.2L227.8 316.2L232.8 312.5L235.2 303.8L237.8 296.2L240.2 290.0L247.8 285.0L250.2 275.0L252.8 265.0L256.5 255.5L254.5 252.5"/><path d="M224.8 344.5L226.5 344.5"/><path d="M292.5 164.0L298.8 162.0L301.2 154.5L307.5 149.5L311.2 150.8L316.2 155.8L320.0 159.5L323.8 160.8L317.5 148.2L318.8 147.0L323.8 154.5L325.0 160.8L328.8 162.0L330.0 157.0L335.0 155.8L336.2 148.2L342.5 145.8L348.8 142.5L348.8 154.5L340.0 155.8L333.8 157.0L331.2 160.8L335.0 163.2L340.0 164.5L343.8 167.0L341.2 173.2L340.5 179.5"/><path d="M292.5 164.0L300.0 163.2L310.0 162.0L313.8 168.2L318.8 172.0L325.0 176.5L328.8 173.2L336.2 174.5L340.5 179.5"/><path d="M292.5 164.0L287.5 172.0L283.8 180.8L280.0 190.8L279.5 202.0L281.2 214.5L285.0 223.2L293.8 229.0L301.2 227.5L307.5 232.0L311.2 237.0L313.8 247.0L315.5 257.0"/><path d="M340.5 179.5L343.8 190.8L347.5 200.8L350.5 209.5L353.8 214.5L363.8 215.0L362.5 222.0L358.8 230.8L355.0 239.5L351.2 248.2L350.0 257.0"/><path d="M341.2 179.5L345.0 187.0L348.8 197.0L352.5 207.0L357.5 211.5L362.5 209.5L368.8 203.2L372.5 197.0L372.0 192.0L366.2 188.2L363.8 183.2L361.2 178.2L365.0 185.8L370.0 188.2L377.5 188.2L383.8 193.2L388.8 198.2L391.2 207.0L395.0 219.5L400.0 212.0L401.2 205.8L406.2 199.5L411.8 194.0L416.2 200.8L420.0 209.5L422.5 214.5L424.5 224.5L427.5 234.5L430.0 237.0"/><path d="M398.2 220.8L399.0 225.8"/><path d="M340.8 238.2L341.5 244.5"/><path d="M316.2 160.2L318.8 160.2"/><path d="M329.2 165.0L330.2 166.5"/><path d="M306.0 116.0L307.8 119.0L310.0 119.4L313.8 120.0L318.1 123.8L321.2 121.2L323.1 116.9L322.5 111.2L324.4 108.1L328.1 105.6L326.9 110.0L329.4 116.2L335.6 116.2L330.0 120.0L325.0 123.8L320.0 127.5L315.6 128.8L313.1 124.4L310.0 123.5L308.1 128.1L305.0 131.9L302.5 135.6L299.4 137.2L295.6 138.1L294.4 138.8L296.2 141.9L298.8 144.4L295.6 146.9L291.9 148.8L290.0 152.5L288.8 156.2L290.0 160.0L292.5 163.1L295.6 163.8"/><path d="M291.9 118.1L295.0 119.4L296.2 125.0L298.8 130.0L301.2 133.1L297.5 134.4L294.4 135.0L296.2 133.1L293.8 129.4L293.1 125.0L291.9 123.8L292.5 120.6L291.9 118.1"/><path d="M290.6 125.6L291.9 128.1L289.4 131.9L287.5 129.4L290.6 125.6"/><path d="M310.6 154.8L310.9 155.5"/><path d="M316.2 160.0L318.8 160.0"/><path d="M297.2 113.2L298.2 114.2"/><path d="M434.0 82.0L439.0 82.5L434.0 86.5L444.0 87.5L455.2 87.5L461.5 92.0L469.0 90.0L479.0 90.8L489.0 92.0L499.0 94.5L511.5 95.0L519.0 95.8L524.0 97.0"/><path d="M470.2 83.2L475.2 82.0L482.8 84.0L476.5 84.5L470.2 83.2"/><path d="M524.0 103.2L519.0 110.8L511.5 114.0L504.0 114.0L502.0 118.2L498.5 125.8L494.0 133.2L493.5 123.2L492.8 115.8L494.0 111.5L491.5 115.8L482.8 117.0L475.2 119.0L471.5 124.5L470.2 129.5L472.8 134.5L469.0 143.2L465.2 150.8L461.5 157.0L458.5 162.0L456.5 167.0L454.8 160.8L451.5 155.8L445.2 159.5L449.5 164.0L450.2 172.0L450.2 177.0"/><path d="M475.2 127.0L477.0 134.5L477.8 143.2L476.5 152.0L473.5 160.0L469.0 166.2L464.0 167.5L461.0 172.5L463.5 173.0L466.0 168.2L472.0 164.5L475.2 157.0L476.0 149.5L474.5 139.5L474.0 130.8L475.2 127.0"/><path d="M513.0 129.5L514.0 129.5"/><path d="M519.0 131.0L519.2 132.5"/><path d="M450.2 177.0L449.5 179.5L447.8 187.0L441.5 192.0L435.2 194.5L434.0 198.2L432.8 209.5L431.5 217.0L427.8 215.0L423.5 210.0L421.5 222.0L423.5 230.8L426.0 220.8L424.5 212.0"/><path d="M417.8 226.5L422.8 235.8L427.8 243.2L431.5 245.0L427.8 237.0L423.5 230.0L417.8 226.5"/><path d="M445.2 224.5L447.0 233.2L444.0 242.0L440.2 245.0L435.2 240.0L439.0 233.2L442.8 227.0L445.2 224.5"/><path d="M449.5 200.8L452.0 199.5L452.8 208.2L450.2 210.8L449.5 200.8"/><path d="M454.0 218.2L456.0 224.5L451.5 225.0L454.0 218.2"/><path d="M447.5 217.0L448.5 216.0"/><path d="M431.5 251.5L436.5 253.2L441.5 254.0"/><path d="M449.5 186.2L451.0 187.0"/><path d="M441.5 283.2L442.8 280.8L447.8 278.2L452.8 272.0L455.2 268.2L457.8 269.5L461.5 265.8L464.5 261.5L467.8 263.2L471.5 272.0L474.0 265.8L476.5 260.8L479.0 265.8L481.5 273.2L485.2 282.0L489.0 290.8L489.5 295.8L487.8 303.2L486.5 309.5L481.5 316.5L477.8 317.5L473.5 315.8L469.0 309.5L465.2 304.5L461.5 302.5L456.5 305.0L450.2 307.0L444.0 305.8L442.8 300.8L441.5 292.0L441.5 283.2"/><path d="M479.0 322.5L482.8 325.0L481.0 326.5L479.0 322.5"/><path d="M462.0 242.0L469.0 243.2L475.2 243.2L480.2 249.5L486.5 259.0L481.5 258.2L474.0 253.2L467.8 247.0L462.0 242.0"/><path d="M514.0 308.2L516.5 312.0L519.5 318.2L517.8 319.5L515.2 313.2L514.0 308.2"/><path d="M514.0 322.0L515.2 325.8L511.5 330.8L508.5 333.2L510.2 329.5L512.8 324.5L514.0 322.0"/><path d="M503.2 279.2L503.2 281.0"/><path d="M521.2 273.5L522.8 272.0"/><path d="M315.5 257.0L315.0 274.5L317.0 284.5L320.0 297.0L323.8 311.5L328.8 310.0L333.8 308.2L338.8 299.5L342.5 287.0L345.0 277.0L348.0 265.8L349.0 256.5L350.0 257.0"/><path d="M360.5 264.5L360.8 274.5L358.8 282.0L355.0 290.0L354.5 283.2L355.5 277.0L357.5 270.8L360.5 264.5"/><path d="M76.5 399.2L97.8 398.8L102.8 398.2"/><path d="M96.5 399.5L99.5 402.0"/><path d="M76.5 412.5L86.5 413.2L106.5 413.8L115.2 414.2L112.8 408.8L109.0 405.0L109.0 400.0L112.8 397.0L124.0 393.8L134.0 391.2L144.0 390.0L154.0 390.5L161.5 393.0L169.0 391.2L175.2 388.8L184.0 389.2L196.5 388.8L204.0 387.5L210.2 388.0L214.0 385.0L216.5 378.8L220.2 372.5L225.2 369.5L226.0 373.8L224.0 381.2L222.8 385.0L223.5 392.5L234.0 395.0"/><path d="M206.5 385.0L212.8 381.2L213.5 383.8L209.0 386.2"/><path d="M219.0 378.8L224.0 377.0L226.0 371.2"/><path d="M223.5 392.5L216.5 395.0L206.5 395.0L196.5 397.5L204.0 401.2L211.5 404.5L221.5 405.5L234.0 403.8"/><path d="M220.2 403.0L234.0 401.2"/><path d="M223.5 392.5L229.0 395.0L239.0 398.0L249.0 398.8L257.8 398.0L260.2 403.0L251.5 404.5L239.0 406.2L229.0 407.0L219.0 406.2L214.0 405.5"/><path d="M219.0 403.0L229.0 401.2L240.2 398.0L245.2 401.2L239.0 403.8L229.0 403.8L219.0 403.0"/><path d="M257.8 398.0L266.5 393.8L276.5 388.8L286.5 385.0L297.8 380.0L304.0 382.5L314.0 383.0L324.0 383.0L331.5 383.8L339.0 380.5L346.5 382.0L354.0 378.0L364.0 374.5L374.0 376.2"/><path d="M289.0 385.5L299.0 383.0L304.0 383.8"/><path d="M324.0 384.5L331.5 384.5"/><path d="M374.0 376.8L385.0 379.5L386.2 383.0L392.5 381.2L400.0 378.8L405.0 375.5L415.0 375.0L425.0 374.2L440.0 374.5L446.2 376.2L455.0 374.2L465.0 374.2L475.0 376.2L485.0 378.8L495.0 380.5L502.5 383.0L511.2 385.5L507.5 391.2L502.5 397.5L502.0 400.0L508.8 397.5L515.0 397.5L522.5 399.2"/><path d="M502.0 400.0L506.2 406.2L512.5 409.5L517.5 410.5"/><path d="M385.0 379.5L388.0 380.0L386.2 383.0"/><path d="M402.0 378.0L406.2 375.8"/></g>
<rect x="74.5" y="57.5" width="450" height="362" fill="none" stroke="#000" stroke-width="1" shape-rendering="crispEdges"/>
<rect x="535.5" y="57.5" width="22" height="362" fill="url(#cb)" stroke="#000" stroke-width="1" shape-rendering="crispEdges"/>
<g shape-rendering="crispEdges"><path d="M535 372.5h5M553 372.5h5" stroke="#000" stroke-width="1"/><path d="M535 314.5h5M553 314.5h5" stroke="#000" stroke-width="1"/><path d="M535 256.5h5M553 256.5h5" stroke="#000" stroke-width="1"/><path d="M535 198.5h5M553 198.5h5" stroke="#000" stroke-width="1"/><path d="M535 139.5h5M553 139.5h5" stroke="#000" stroke-width="1"/><path d="M535 81.5h5M553 81.5h5" stroke="#000" stroke-width="1"/><path d="M67 76.5h8" stroke="#000" stroke-width="1"/></g>
<text x="297" y="31.75" text-anchor="middle">VTEC / TECU 20071227_361.83700</text>
<text x="32.6" y="73.8" style="font-size:15px">'Vtec</text>
<text x="60.9" y="78.1" text-anchor="end">80</text><text x="60.9" y="119.3" text-anchor="end">60</text><text x="60.9" y="160.4" text-anchor="end">40</text><text x="60.9" y="201.6" text-anchor="end">20</text><text x="60.9" y="242.7" text-anchor="end">0</text><text x="60.9" y="283.8" text-anchor="end">-20</text><text x="60.9" y="325.0" text-anchor="end">-40</text><text x="60.9" y="366.1" text-anchor="end">-60</text><text x="60.9" y="407.3" text-anchor="end">-80</text><text x="112.0" y="442" text-anchor="middle">-150</text><text x="174.0" y="442" text-anchor="middle">-100</text><text x="235.4" y="442" text-anchor="middle">-50</text><text x="299.4" y="442" text-anchor="middle">0</text><text x="361.2" y="442" text-anchor="middle">50</text><text x="423.0" y="442" text-anchor="middle">100</text><text x="485.7" y="442" text-anchor="middle">150</text><text x="571" y="376.8">5</text><text x="571" y="318.8">10</text><text x="571" y="260.8">15</text><text x="571" y="202.8">20</text><text x="571" y="143.8">25</text><text x="571" y="85.8">30</text>
<text x="297.6" y="469.7" text-anchor="middle">Longitude / deg</text>
<text transform="translate(16.9,238) rotate(-90)" text-anchor="middle">Latitude / deg</text>
</svg></body></html>
